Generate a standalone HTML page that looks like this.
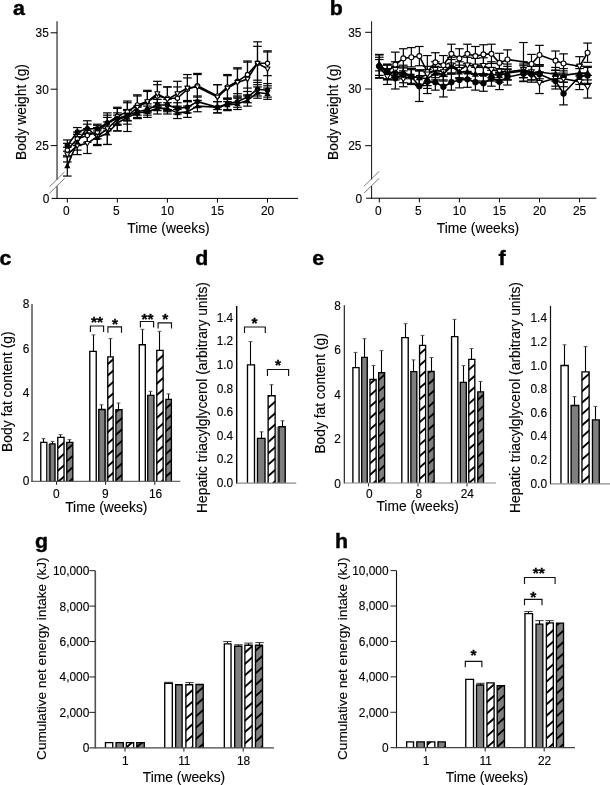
<!DOCTYPE html>
<html lang="en">
<head>
<meta charset="utf-8">
<title>Figure: body weight, body fat content, hepatic triacylglycerol and energy intake</title>
<style>
html,body{margin:0;padding:0;background:#fff;}
body{width:610px;height:785px;overflow:hidden;}
svg{display:block;font-family:'Liberation Sans', sans-serif;fill:#000;}
</style>
</head>
<body>
<svg width="610" height="785" viewBox="0 0 610 785">
<rect x="0" y="0" width="610" height="785" fill="#fff"/>
<g id="panel-a">
<text transform="translate(13 15.1) scale(1.1 1)" x="0" y="0" font-size="19.4" text-anchor="start" font-weight="bold" stroke="#000" stroke-width="0.4" stroke-linejoin="round">a</text>
<line x1="57.05" y1="21.3" x2="57.05" y2="179.7" stroke="#606060" stroke-width="1.6"/>
<line x1="57.05" y1="186.2" x2="57.05" y2="198.9" stroke="#606060" stroke-width="1.6"/>
<line x1="49.4" y1="186.9" x2="64.6" y2="171.9" stroke="#555" stroke-width="0.8"/>
<line x1="49.4" y1="193.4" x2="64.6" y2="178.4" stroke="#555" stroke-width="0.8"/>
<line x1="51.55" y1="198.4" x2="298" y2="198.4" stroke="#000" stroke-width="1"/>
<line x1="50.65" y1="145.6" x2="57.05" y2="145.6" stroke="#000" stroke-width="1"/>
<text x="48.85" y="149.9" font-size="11.9" text-anchor="end" stroke="#000" stroke-width="0.12">25</text>
<line x1="50.65" y1="89.2" x2="57.05" y2="89.2" stroke="#000" stroke-width="1"/>
<text x="48.85" y="93.5" font-size="11.9" text-anchor="end" stroke="#000" stroke-width="0.12">30</text>
<line x1="50.65" y1="32.8" x2="57.05" y2="32.8" stroke="#000" stroke-width="1"/>
<text x="48.85" y="37.1" font-size="11.9" text-anchor="end" stroke="#000" stroke-width="0.12">35</text>
<text x="49.45" y="202.7" font-size="11.9" text-anchor="end" stroke="#000" stroke-width="0.12">0</text>
<line x1="67.3" y1="198.4" x2="67.3" y2="202.6" stroke="#000" stroke-width="1"/>
<text x="66.2" y="214.8" font-size="11.9" text-anchor="middle" stroke="#000" stroke-width="0.12">0</text>
<line x1="117.35" y1="198.4" x2="117.35" y2="202.6" stroke="#000" stroke-width="1"/>
<text x="116.25" y="214.8" font-size="11.9" text-anchor="middle" stroke="#000" stroke-width="0.12">5</text>
<line x1="167.4" y1="198.4" x2="167.4" y2="202.6" stroke="#000" stroke-width="1"/>
<text x="167.4" y="214.8" font-size="11.9" text-anchor="middle" stroke="#000" stroke-width="0.12">10</text>
<line x1="217.45" y1="198.4" x2="217.45" y2="202.6" stroke="#000" stroke-width="1"/>
<text x="217.45" y="214.8" font-size="11.9" text-anchor="middle" stroke="#000" stroke-width="0.12">15</text>
<line x1="267.5" y1="198.4" x2="267.5" y2="202.6" stroke="#000" stroke-width="1"/>
<text x="267.5" y="214.8" font-size="11.9" text-anchor="middle" stroke="#000" stroke-width="0.12">20</text>
<text x="26" y="112" font-size="13.8" text-anchor="middle" transform="rotate(-90 26 112)" stroke="#000" stroke-width="0.12">Body weight (g)</text>
<text x="168.5" y="232.5" font-size="13.8" text-anchor="middle" stroke="#000" stroke-width="0.12">Time (weeks)</text>
<line x1="67.3" y1="143.34" x2="67.3" y2="156.88" stroke="#000" stroke-width="1.2"/>
<line x1="63" y1="143.34" x2="71.6" y2="143.34" stroke="#000" stroke-width="1.2"/>
<line x1="63" y1="156.88" x2="71.6" y2="156.88" stroke="#000" stroke-width="1.2"/>
<line x1="77.31" y1="132.06" x2="77.31" y2="145.6" stroke="#000" stroke-width="1.2"/>
<line x1="73.01" y1="132.06" x2="81.61" y2="132.06" stroke="#000" stroke-width="1.2"/>
<line x1="73.01" y1="145.6" x2="81.61" y2="145.6" stroke="#000" stroke-width="1.2"/>
<line x1="87.32" y1="128.68" x2="87.32" y2="142.22" stroke="#000" stroke-width="1.2"/>
<line x1="83.02" y1="128.68" x2="91.62" y2="128.68" stroke="#000" stroke-width="1.2"/>
<line x1="83.02" y1="142.22" x2="91.62" y2="142.22" stroke="#000" stroke-width="1.2"/>
<line x1="97.33" y1="125.3" x2="97.33" y2="138.83" stroke="#000" stroke-width="1.2"/>
<line x1="93.03" y1="125.3" x2="101.63" y2="125.3" stroke="#000" stroke-width="1.2"/>
<line x1="93.03" y1="138.83" x2="101.63" y2="138.83" stroke="#000" stroke-width="1.2"/>
<line x1="107.34" y1="115.14" x2="107.34" y2="130.94" stroke="#000" stroke-width="1.2"/>
<line x1="103.04" y1="115.14" x2="111.64" y2="115.14" stroke="#000" stroke-width="1.2"/>
<line x1="103.04" y1="130.94" x2="111.64" y2="130.94" stroke="#000" stroke-width="1.2"/>
<line x1="117.35" y1="107.25" x2="117.35" y2="125.3" stroke="#000" stroke-width="1.2"/>
<line x1="113.05" y1="107.25" x2="121.65" y2="107.25" stroke="#000" stroke-width="1.2"/>
<line x1="113.05" y1="125.3" x2="121.65" y2="125.3" stroke="#000" stroke-width="1.2"/>
<line x1="127.36" y1="102.74" x2="127.36" y2="120.78" stroke="#000" stroke-width="1.2"/>
<line x1="123.06" y1="102.74" x2="131.66" y2="102.74" stroke="#000" stroke-width="1.2"/>
<line x1="123.06" y1="120.78" x2="131.66" y2="120.78" stroke="#000" stroke-width="1.2"/>
<line x1="137.37" y1="94.84" x2="137.37" y2="115.14" stroke="#000" stroke-width="1.2"/>
<line x1="133.07" y1="94.84" x2="141.67" y2="94.84" stroke="#000" stroke-width="1.2"/>
<line x1="133.07" y1="115.14" x2="141.67" y2="115.14" stroke="#000" stroke-width="1.2"/>
<line x1="147.38" y1="91.46" x2="147.38" y2="111.76" stroke="#000" stroke-width="1.2"/>
<line x1="143.08" y1="91.46" x2="151.68" y2="91.46" stroke="#000" stroke-width="1.2"/>
<line x1="143.08" y1="111.76" x2="151.68" y2="111.76" stroke="#000" stroke-width="1.2"/>
<line x1="157.39" y1="84.69" x2="157.39" y2="107.25" stroke="#000" stroke-width="1.2"/>
<line x1="153.09" y1="84.69" x2="161.69" y2="84.69" stroke="#000" stroke-width="1.2"/>
<line x1="153.09" y1="107.25" x2="161.69" y2="107.25" stroke="#000" stroke-width="1.2"/>
<line x1="167.4" y1="86.94" x2="167.4" y2="109.5" stroke="#000" stroke-width="1.2"/>
<line x1="163.1" y1="86.94" x2="171.7" y2="86.94" stroke="#000" stroke-width="1.2"/>
<line x1="163.1" y1="109.5" x2="171.7" y2="109.5" stroke="#000" stroke-width="1.2"/>
<line x1="177.41" y1="86.94" x2="177.41" y2="109.5" stroke="#000" stroke-width="1.2"/>
<line x1="173.11" y1="86.94" x2="181.71" y2="86.94" stroke="#000" stroke-width="1.2"/>
<line x1="173.11" y1="109.5" x2="181.71" y2="109.5" stroke="#000" stroke-width="1.2"/>
<line x1="187.42" y1="77.92" x2="187.42" y2="100.48" stroke="#000" stroke-width="1.2"/>
<line x1="183.12" y1="77.92" x2="191.72" y2="77.92" stroke="#000" stroke-width="1.2"/>
<line x1="183.12" y1="100.48" x2="191.72" y2="100.48" stroke="#000" stroke-width="1.2"/>
<line x1="197.43" y1="74.54" x2="197.43" y2="97.1" stroke="#000" stroke-width="1.2"/>
<line x1="193.13" y1="74.54" x2="201.73" y2="74.54" stroke="#000" stroke-width="1.2"/>
<line x1="193.13" y1="97.1" x2="201.73" y2="97.1" stroke="#000" stroke-width="1.2"/>
<line x1="217.45" y1="84.69" x2="217.45" y2="107.25" stroke="#000" stroke-width="1.2"/>
<line x1="213.15" y1="84.69" x2="221.75" y2="84.69" stroke="#000" stroke-width="1.2"/>
<line x1="213.15" y1="107.25" x2="221.75" y2="107.25" stroke="#000" stroke-width="1.2"/>
<line x1="227.46" y1="75.66" x2="227.46" y2="98.22" stroke="#000" stroke-width="1.2"/>
<line x1="223.16" y1="75.66" x2="231.76" y2="75.66" stroke="#000" stroke-width="1.2"/>
<line x1="223.16" y1="98.22" x2="231.76" y2="98.22" stroke="#000" stroke-width="1.2"/>
<line x1="237.47" y1="68.9" x2="237.47" y2="93.71" stroke="#000" stroke-width="1.2"/>
<line x1="233.17" y1="68.9" x2="241.77" y2="68.9" stroke="#000" stroke-width="1.2"/>
<line x1="233.17" y1="93.71" x2="241.77" y2="93.71" stroke="#000" stroke-width="1.2"/>
<line x1="247.48" y1="61" x2="247.48" y2="88.07" stroke="#000" stroke-width="1.2"/>
<line x1="243.18" y1="61" x2="251.78" y2="61" stroke="#000" stroke-width="1.2"/>
<line x1="243.18" y1="88.07" x2="251.78" y2="88.07" stroke="#000" stroke-width="1.2"/>
<line x1="257.49" y1="46.34" x2="257.49" y2="80.18" stroke="#000" stroke-width="1.2"/>
<line x1="253.19" y1="46.34" x2="261.79" y2="46.34" stroke="#000" stroke-width="1.2"/>
<line x1="253.19" y1="80.18" x2="261.79" y2="80.18" stroke="#000" stroke-width="1.2"/>
<line x1="267.5" y1="50.85" x2="267.5" y2="75.66" stroke="#000" stroke-width="1.2"/>
<line x1="263.2" y1="50.85" x2="271.8" y2="50.85" stroke="#000" stroke-width="1.2"/>
<line x1="263.2" y1="75.66" x2="271.8" y2="75.66" stroke="#000" stroke-width="1.2"/>
<line x1="67.3" y1="147.29" x2="67.3" y2="161.96" stroke="#000" stroke-width="1.2"/>
<line x1="63" y1="147.29" x2="71.6" y2="147.29" stroke="#000" stroke-width="1.2"/>
<line x1="63" y1="161.96" x2="71.6" y2="161.96" stroke="#000" stroke-width="1.2"/>
<line x1="77.31" y1="136.58" x2="77.31" y2="154.62" stroke="#000" stroke-width="1.2"/>
<line x1="73.01" y1="136.58" x2="81.61" y2="136.58" stroke="#000" stroke-width="1.2"/>
<line x1="73.01" y1="154.62" x2="81.61" y2="154.62" stroke="#000" stroke-width="1.2"/>
<line x1="87.32" y1="133.19" x2="87.32" y2="153.5" stroke="#000" stroke-width="1.2"/>
<line x1="83.02" y1="133.19" x2="91.62" y2="133.19" stroke="#000" stroke-width="1.2"/>
<line x1="83.02" y1="153.5" x2="91.62" y2="153.5" stroke="#000" stroke-width="1.2"/>
<line x1="97.33" y1="127.55" x2="97.33" y2="145.6" stroke="#000" stroke-width="1.2"/>
<line x1="93.03" y1="127.55" x2="101.63" y2="127.55" stroke="#000" stroke-width="1.2"/>
<line x1="93.03" y1="145.6" x2="101.63" y2="145.6" stroke="#000" stroke-width="1.2"/>
<line x1="107.34" y1="112.89" x2="107.34" y2="144.47" stroke="#000" stroke-width="1.2"/>
<line x1="103.04" y1="112.89" x2="111.64" y2="112.89" stroke="#000" stroke-width="1.2"/>
<line x1="103.04" y1="144.47" x2="111.64" y2="144.47" stroke="#000" stroke-width="1.2"/>
<line x1="117.35" y1="108.38" x2="117.35" y2="130.94" stroke="#000" stroke-width="1.2"/>
<line x1="113.05" y1="108.38" x2="121.65" y2="108.38" stroke="#000" stroke-width="1.2"/>
<line x1="113.05" y1="130.94" x2="121.65" y2="130.94" stroke="#000" stroke-width="1.2"/>
<line x1="127.36" y1="101.04" x2="127.36" y2="131.5" stroke="#000" stroke-width="1.2"/>
<line x1="123.06" y1="101.04" x2="131.66" y2="101.04" stroke="#000" stroke-width="1.2"/>
<line x1="123.06" y1="131.5" x2="131.66" y2="131.5" stroke="#000" stroke-width="1.2"/>
<line x1="137.37" y1="95.97" x2="137.37" y2="118.53" stroke="#000" stroke-width="1.2"/>
<line x1="133.07" y1="95.97" x2="141.67" y2="95.97" stroke="#000" stroke-width="1.2"/>
<line x1="133.07" y1="118.53" x2="141.67" y2="118.53" stroke="#000" stroke-width="1.2"/>
<line x1="147.38" y1="90.33" x2="147.38" y2="112.89" stroke="#000" stroke-width="1.2"/>
<line x1="143.08" y1="90.33" x2="151.68" y2="90.33" stroke="#000" stroke-width="1.2"/>
<line x1="143.08" y1="112.89" x2="151.68" y2="112.89" stroke="#000" stroke-width="1.2"/>
<line x1="157.39" y1="81.3" x2="157.39" y2="106.12" stroke="#000" stroke-width="1.2"/>
<line x1="153.09" y1="81.3" x2="161.69" y2="81.3" stroke="#000" stroke-width="1.2"/>
<line x1="153.09" y1="106.12" x2="161.69" y2="106.12" stroke="#000" stroke-width="1.2"/>
<line x1="167.4" y1="86.94" x2="167.4" y2="111.76" stroke="#000" stroke-width="1.2"/>
<line x1="163.1" y1="86.94" x2="171.7" y2="86.94" stroke="#000" stroke-width="1.2"/>
<line x1="163.1" y1="111.76" x2="171.7" y2="111.76" stroke="#000" stroke-width="1.2"/>
<line x1="177.41" y1="81.3" x2="177.41" y2="106.12" stroke="#000" stroke-width="1.2"/>
<line x1="173.11" y1="81.3" x2="181.71" y2="81.3" stroke="#000" stroke-width="1.2"/>
<line x1="173.11" y1="106.12" x2="181.71" y2="106.12" stroke="#000" stroke-width="1.2"/>
<line x1="187.42" y1="74.54" x2="187.42" y2="101.61" stroke="#000" stroke-width="1.2"/>
<line x1="183.12" y1="74.54" x2="191.72" y2="74.54" stroke="#000" stroke-width="1.2"/>
<line x1="183.12" y1="101.61" x2="191.72" y2="101.61" stroke="#000" stroke-width="1.2"/>
<line x1="197.43" y1="73.41" x2="197.43" y2="100.48" stroke="#000" stroke-width="1.2"/>
<line x1="193.13" y1="73.41" x2="201.73" y2="73.41" stroke="#000" stroke-width="1.2"/>
<line x1="193.13" y1="100.48" x2="201.73" y2="100.48" stroke="#000" stroke-width="1.2"/>
<line x1="217.45" y1="84.69" x2="217.45" y2="109.5" stroke="#000" stroke-width="1.2"/>
<line x1="213.15" y1="84.69" x2="221.75" y2="84.69" stroke="#000" stroke-width="1.2"/>
<line x1="213.15" y1="109.5" x2="221.75" y2="109.5" stroke="#000" stroke-width="1.2"/>
<line x1="227.46" y1="74.54" x2="227.46" y2="101.61" stroke="#000" stroke-width="1.2"/>
<line x1="223.16" y1="74.54" x2="231.76" y2="74.54" stroke="#000" stroke-width="1.2"/>
<line x1="223.16" y1="101.61" x2="231.76" y2="101.61" stroke="#000" stroke-width="1.2"/>
<line x1="237.47" y1="67.77" x2="237.47" y2="97.1" stroke="#000" stroke-width="1.2"/>
<line x1="233.17" y1="67.77" x2="241.77" y2="67.77" stroke="#000" stroke-width="1.2"/>
<line x1="233.17" y1="97.1" x2="241.77" y2="97.1" stroke="#000" stroke-width="1.2"/>
<line x1="247.48" y1="62.13" x2="247.48" y2="95.97" stroke="#000" stroke-width="1.2"/>
<line x1="243.18" y1="62.13" x2="251.78" y2="62.13" stroke="#000" stroke-width="1.2"/>
<line x1="243.18" y1="95.97" x2="251.78" y2="95.97" stroke="#000" stroke-width="1.2"/>
<line x1="257.49" y1="41.82" x2="257.49" y2="84.69" stroke="#000" stroke-width="1.2"/>
<line x1="253.19" y1="41.82" x2="261.79" y2="41.82" stroke="#000" stroke-width="1.2"/>
<line x1="253.19" y1="84.69" x2="261.79" y2="84.69" stroke="#000" stroke-width="1.2"/>
<line x1="267.5" y1="51.98" x2="267.5" y2="85.82" stroke="#000" stroke-width="1.2"/>
<line x1="263.2" y1="51.98" x2="271.8" y2="51.98" stroke="#000" stroke-width="1.2"/>
<line x1="263.2" y1="85.82" x2="271.8" y2="85.82" stroke="#000" stroke-width="1.2"/>
<line x1="67.3" y1="139.96" x2="67.3" y2="151.24" stroke="#000" stroke-width="1.2"/>
<line x1="63" y1="139.96" x2="71.6" y2="139.96" stroke="#000" stroke-width="1.2"/>
<line x1="63" y1="151.24" x2="71.6" y2="151.24" stroke="#000" stroke-width="1.2"/>
<line x1="77.31" y1="127.55" x2="77.31" y2="136.58" stroke="#000" stroke-width="1.2"/>
<line x1="73.01" y1="127.55" x2="81.61" y2="127.55" stroke="#000" stroke-width="1.2"/>
<line x1="73.01" y1="136.58" x2="81.61" y2="136.58" stroke="#000" stroke-width="1.2"/>
<line x1="87.32" y1="124.17" x2="87.32" y2="133.19" stroke="#000" stroke-width="1.2"/>
<line x1="83.02" y1="124.17" x2="91.62" y2="124.17" stroke="#000" stroke-width="1.2"/>
<line x1="83.02" y1="133.19" x2="91.62" y2="133.19" stroke="#000" stroke-width="1.2"/>
<line x1="97.33" y1="124.17" x2="97.33" y2="133.19" stroke="#000" stroke-width="1.2"/>
<line x1="93.03" y1="124.17" x2="101.63" y2="124.17" stroke="#000" stroke-width="1.2"/>
<line x1="93.03" y1="133.19" x2="101.63" y2="133.19" stroke="#000" stroke-width="1.2"/>
<line x1="107.34" y1="117.4" x2="107.34" y2="128.68" stroke="#000" stroke-width="1.2"/>
<line x1="103.04" y1="117.4" x2="111.64" y2="117.4" stroke="#000" stroke-width="1.2"/>
<line x1="103.04" y1="128.68" x2="111.64" y2="128.68" stroke="#000" stroke-width="1.2"/>
<line x1="117.35" y1="112.89" x2="117.35" y2="124.17" stroke="#000" stroke-width="1.2"/>
<line x1="113.05" y1="112.89" x2="121.65" y2="112.89" stroke="#000" stroke-width="1.2"/>
<line x1="113.05" y1="124.17" x2="121.65" y2="124.17" stroke="#000" stroke-width="1.2"/>
<line x1="127.36" y1="109.5" x2="127.36" y2="120.78" stroke="#000" stroke-width="1.2"/>
<line x1="123.06" y1="109.5" x2="131.66" y2="109.5" stroke="#000" stroke-width="1.2"/>
<line x1="123.06" y1="120.78" x2="131.66" y2="120.78" stroke="#000" stroke-width="1.2"/>
<line x1="137.37" y1="106.12" x2="137.37" y2="117.4" stroke="#000" stroke-width="1.2"/>
<line x1="133.07" y1="106.12" x2="141.67" y2="106.12" stroke="#000" stroke-width="1.2"/>
<line x1="133.07" y1="117.4" x2="141.67" y2="117.4" stroke="#000" stroke-width="1.2"/>
<line x1="147.38" y1="103.86" x2="147.38" y2="115.14" stroke="#000" stroke-width="1.2"/>
<line x1="143.08" y1="103.86" x2="151.68" y2="103.86" stroke="#000" stroke-width="1.2"/>
<line x1="143.08" y1="115.14" x2="151.68" y2="115.14" stroke="#000" stroke-width="1.2"/>
<line x1="157.39" y1="99.35" x2="157.39" y2="110.63" stroke="#000" stroke-width="1.2"/>
<line x1="153.09" y1="99.35" x2="161.69" y2="99.35" stroke="#000" stroke-width="1.2"/>
<line x1="153.09" y1="110.63" x2="161.69" y2="110.63" stroke="#000" stroke-width="1.2"/>
<line x1="167.4" y1="99.35" x2="167.4" y2="110.63" stroke="#000" stroke-width="1.2"/>
<line x1="163.1" y1="99.35" x2="171.7" y2="99.35" stroke="#000" stroke-width="1.2"/>
<line x1="163.1" y1="110.63" x2="171.7" y2="110.63" stroke="#000" stroke-width="1.2"/>
<line x1="177.41" y1="102.74" x2="177.41" y2="114.02" stroke="#000" stroke-width="1.2"/>
<line x1="173.11" y1="102.74" x2="181.71" y2="102.74" stroke="#000" stroke-width="1.2"/>
<line x1="173.11" y1="114.02" x2="181.71" y2="114.02" stroke="#000" stroke-width="1.2"/>
<line x1="187.42" y1="101.61" x2="187.42" y2="112.89" stroke="#000" stroke-width="1.2"/>
<line x1="183.12" y1="101.61" x2="191.72" y2="101.61" stroke="#000" stroke-width="1.2"/>
<line x1="183.12" y1="112.89" x2="191.72" y2="112.89" stroke="#000" stroke-width="1.2"/>
<line x1="197.43" y1="95.97" x2="197.43" y2="107.25" stroke="#000" stroke-width="1.2"/>
<line x1="193.13" y1="95.97" x2="201.73" y2="95.97" stroke="#000" stroke-width="1.2"/>
<line x1="193.13" y1="107.25" x2="201.73" y2="107.25" stroke="#000" stroke-width="1.2"/>
<line x1="217.45" y1="101.61" x2="217.45" y2="112.89" stroke="#000" stroke-width="1.2"/>
<line x1="213.15" y1="101.61" x2="221.75" y2="101.61" stroke="#000" stroke-width="1.2"/>
<line x1="213.15" y1="112.89" x2="221.75" y2="112.89" stroke="#000" stroke-width="1.2"/>
<line x1="227.46" y1="98.22" x2="227.46" y2="109.5" stroke="#000" stroke-width="1.2"/>
<line x1="223.16" y1="98.22" x2="231.76" y2="98.22" stroke="#000" stroke-width="1.2"/>
<line x1="223.16" y1="109.5" x2="231.76" y2="109.5" stroke="#000" stroke-width="1.2"/>
<line x1="237.47" y1="95.97" x2="237.47" y2="107.25" stroke="#000" stroke-width="1.2"/>
<line x1="233.17" y1="95.97" x2="241.77" y2="95.97" stroke="#000" stroke-width="1.2"/>
<line x1="233.17" y1="107.25" x2="241.77" y2="107.25" stroke="#000" stroke-width="1.2"/>
<line x1="247.48" y1="91.46" x2="247.48" y2="102.74" stroke="#000" stroke-width="1.2"/>
<line x1="243.18" y1="91.46" x2="251.78" y2="91.46" stroke="#000" stroke-width="1.2"/>
<line x1="243.18" y1="102.74" x2="251.78" y2="102.74" stroke="#000" stroke-width="1.2"/>
<line x1="257.49" y1="82.43" x2="257.49" y2="95.97" stroke="#000" stroke-width="1.2"/>
<line x1="253.19" y1="82.43" x2="261.79" y2="82.43" stroke="#000" stroke-width="1.2"/>
<line x1="253.19" y1="95.97" x2="261.79" y2="95.97" stroke="#000" stroke-width="1.2"/>
<line x1="267.5" y1="83.56" x2="267.5" y2="97.1" stroke="#000" stroke-width="1.2"/>
<line x1="263.2" y1="83.56" x2="271.8" y2="83.56" stroke="#000" stroke-width="1.2"/>
<line x1="263.2" y1="97.1" x2="271.8" y2="97.1" stroke="#000" stroke-width="1.2"/>
<line x1="67.3" y1="155.75" x2="67.3" y2="176.06" stroke="#000" stroke-width="1.2"/>
<line x1="63" y1="155.75" x2="71.6" y2="155.75" stroke="#000" stroke-width="1.2"/>
<line x1="63" y1="176.06" x2="71.6" y2="176.06" stroke="#000" stroke-width="1.2"/>
<line x1="77.31" y1="134.32" x2="77.31" y2="150.11" stroke="#000" stroke-width="1.2"/>
<line x1="73.01" y1="134.32" x2="81.61" y2="134.32" stroke="#000" stroke-width="1.2"/>
<line x1="73.01" y1="150.11" x2="81.61" y2="150.11" stroke="#000" stroke-width="1.2"/>
<line x1="87.32" y1="120.78" x2="87.32" y2="134.32" stroke="#000" stroke-width="1.2"/>
<line x1="83.02" y1="120.78" x2="91.62" y2="120.78" stroke="#000" stroke-width="1.2"/>
<line x1="83.02" y1="134.32" x2="91.62" y2="134.32" stroke="#000" stroke-width="1.2"/>
<line x1="97.33" y1="130.94" x2="97.33" y2="144.47" stroke="#000" stroke-width="1.2"/>
<line x1="93.03" y1="130.94" x2="101.63" y2="130.94" stroke="#000" stroke-width="1.2"/>
<line x1="93.03" y1="144.47" x2="101.63" y2="144.47" stroke="#000" stroke-width="1.2"/>
<line x1="107.34" y1="121.91" x2="107.34" y2="144.47" stroke="#000" stroke-width="1.2"/>
<line x1="103.04" y1="121.91" x2="111.64" y2="121.91" stroke="#000" stroke-width="1.2"/>
<line x1="103.04" y1="144.47" x2="111.64" y2="144.47" stroke="#000" stroke-width="1.2"/>
<line x1="117.35" y1="115.14" x2="117.35" y2="130.94" stroke="#000" stroke-width="1.2"/>
<line x1="113.05" y1="115.14" x2="121.65" y2="115.14" stroke="#000" stroke-width="1.2"/>
<line x1="113.05" y1="130.94" x2="121.65" y2="130.94" stroke="#000" stroke-width="1.2"/>
<line x1="127.36" y1="110.63" x2="127.36" y2="124.17" stroke="#000" stroke-width="1.2"/>
<line x1="123.06" y1="110.63" x2="131.66" y2="110.63" stroke="#000" stroke-width="1.2"/>
<line x1="123.06" y1="124.17" x2="131.66" y2="124.17" stroke="#000" stroke-width="1.2"/>
<line x1="137.37" y1="107.25" x2="137.37" y2="118.53" stroke="#000" stroke-width="1.2"/>
<line x1="133.07" y1="107.25" x2="141.67" y2="107.25" stroke="#000" stroke-width="1.2"/>
<line x1="133.07" y1="118.53" x2="141.67" y2="118.53" stroke="#000" stroke-width="1.2"/>
<line x1="147.38" y1="106.12" x2="147.38" y2="117.4" stroke="#000" stroke-width="1.2"/>
<line x1="143.08" y1="106.12" x2="151.68" y2="106.12" stroke="#000" stroke-width="1.2"/>
<line x1="143.08" y1="117.4" x2="151.68" y2="117.4" stroke="#000" stroke-width="1.2"/>
<line x1="157.39" y1="102.74" x2="157.39" y2="114.02" stroke="#000" stroke-width="1.2"/>
<line x1="153.09" y1="102.74" x2="161.69" y2="102.74" stroke="#000" stroke-width="1.2"/>
<line x1="153.09" y1="114.02" x2="161.69" y2="114.02" stroke="#000" stroke-width="1.2"/>
<line x1="167.4" y1="102.74" x2="167.4" y2="114.02" stroke="#000" stroke-width="1.2"/>
<line x1="163.1" y1="102.74" x2="171.7" y2="102.74" stroke="#000" stroke-width="1.2"/>
<line x1="163.1" y1="114.02" x2="171.7" y2="114.02" stroke="#000" stroke-width="1.2"/>
<line x1="177.41" y1="107.25" x2="177.41" y2="118.53" stroke="#000" stroke-width="1.2"/>
<line x1="173.11" y1="107.25" x2="181.71" y2="107.25" stroke="#000" stroke-width="1.2"/>
<line x1="173.11" y1="118.53" x2="181.71" y2="118.53" stroke="#000" stroke-width="1.2"/>
<line x1="187.42" y1="106.12" x2="187.42" y2="117.4" stroke="#000" stroke-width="1.2"/>
<line x1="183.12" y1="106.12" x2="191.72" y2="106.12" stroke="#000" stroke-width="1.2"/>
<line x1="183.12" y1="117.4" x2="191.72" y2="117.4" stroke="#000" stroke-width="1.2"/>
<line x1="197.43" y1="100.48" x2="197.43" y2="111.76" stroke="#000" stroke-width="1.2"/>
<line x1="193.13" y1="100.48" x2="201.73" y2="100.48" stroke="#000" stroke-width="1.2"/>
<line x1="193.13" y1="111.76" x2="201.73" y2="111.76" stroke="#000" stroke-width="1.2"/>
<line x1="217.45" y1="101.61" x2="217.45" y2="112.89" stroke="#000" stroke-width="1.2"/>
<line x1="213.15" y1="101.61" x2="221.75" y2="101.61" stroke="#000" stroke-width="1.2"/>
<line x1="213.15" y1="112.89" x2="221.75" y2="112.89" stroke="#000" stroke-width="1.2"/>
<line x1="227.46" y1="99.35" x2="227.46" y2="110.63" stroke="#000" stroke-width="1.2"/>
<line x1="223.16" y1="99.35" x2="231.76" y2="99.35" stroke="#000" stroke-width="1.2"/>
<line x1="223.16" y1="110.63" x2="231.76" y2="110.63" stroke="#000" stroke-width="1.2"/>
<line x1="237.47" y1="98.22" x2="237.47" y2="109.5" stroke="#000" stroke-width="1.2"/>
<line x1="233.17" y1="98.22" x2="241.77" y2="98.22" stroke="#000" stroke-width="1.2"/>
<line x1="233.17" y1="109.5" x2="241.77" y2="109.5" stroke="#000" stroke-width="1.2"/>
<line x1="247.48" y1="94.84" x2="247.48" y2="106.12" stroke="#000" stroke-width="1.2"/>
<line x1="243.18" y1="94.84" x2="251.78" y2="94.84" stroke="#000" stroke-width="1.2"/>
<line x1="243.18" y1="106.12" x2="251.78" y2="106.12" stroke="#000" stroke-width="1.2"/>
<line x1="257.49" y1="86.94" x2="257.49" y2="98.22" stroke="#000" stroke-width="1.2"/>
<line x1="253.19" y1="86.94" x2="261.79" y2="86.94" stroke="#000" stroke-width="1.2"/>
<line x1="253.19" y1="98.22" x2="261.79" y2="98.22" stroke="#000" stroke-width="1.2"/>
<line x1="267.5" y1="88.07" x2="267.5" y2="99.35" stroke="#000" stroke-width="1.2"/>
<line x1="263.2" y1="88.07" x2="271.8" y2="88.07" stroke="#000" stroke-width="1.2"/>
<line x1="263.2" y1="99.35" x2="271.8" y2="99.35" stroke="#000" stroke-width="1.2"/>
<polyline points="67.3,150.11 77.31,138.83 87.32,135.45 97.33,132.06 107.34,123.04 117.35,116.27 127.36,111.76 137.37,104.99 147.38,101.61 157.39,95.97 167.4,98.22 177.41,98.22 187.42,89.2 197.43,85.82 217.45,95.97 227.46,86.94 237.47,81.3 247.48,74.54 257.49,63.26 267.5,63.26" fill="none" stroke="#000" stroke-width="1.6" stroke-linejoin="round"/>
<polyline points="67.3,154.62 77.31,145.6 87.32,143.34 97.33,136.58 107.34,128.68 117.35,119.66 127.36,116.27 137.37,107.25 147.38,101.61 157.39,93.71 167.4,99.35 177.41,93.71 187.42,88.07 197.43,86.94 217.45,97.1 227.46,88.07 237.47,82.43 247.48,79.05 257.49,63.26 267.5,68.9" fill="none" stroke="#000" stroke-width="1.6" stroke-linejoin="round"/>
<polyline points="67.3,145.6 77.31,132.06 87.32,128.68 97.33,128.68 107.34,123.04 117.35,118.53 127.36,115.14 137.37,111.76 147.38,109.5 157.39,104.99 167.4,104.99 177.41,108.38 187.42,107.25 197.43,101.61 217.45,107.25 227.46,103.86 237.47,101.61 247.48,97.1 257.49,89.2 267.5,90.33" fill="none" stroke="#000" stroke-width="1.6" stroke-linejoin="round"/>
<polyline points="67.3,165.9 77.31,142.22 87.32,127.55 97.33,137.7 107.34,133.19 117.35,123.04 127.36,117.4 137.37,112.89 147.38,111.76 157.39,108.38 167.4,108.38 177.41,112.89 187.42,111.76 197.43,106.12 217.45,107.25 227.46,104.99 237.47,103.86 247.48,100.48 257.49,92.58 267.5,93.71" fill="none" stroke="#000" stroke-width="1.6" stroke-linejoin="round"/>
<circle cx="67.3" cy="150.11" r="2.17" fill="#fff" stroke="#000" stroke-width="1.1"/>
<circle cx="77.31" cy="138.83" r="2.17" fill="#fff" stroke="#000" stroke-width="1.1"/>
<circle cx="87.32" cy="135.45" r="2.17" fill="#fff" stroke="#000" stroke-width="1.1"/>
<circle cx="97.33" cy="132.06" r="2.17" fill="#fff" stroke="#000" stroke-width="1.1"/>
<circle cx="107.34" cy="123.04" r="2.17" fill="#fff" stroke="#000" stroke-width="1.1"/>
<circle cx="117.35" cy="116.27" r="2.17" fill="#fff" stroke="#000" stroke-width="1.1"/>
<circle cx="127.36" cy="111.76" r="2.17" fill="#fff" stroke="#000" stroke-width="1.1"/>
<circle cx="137.37" cy="104.99" r="2.17" fill="#fff" stroke="#000" stroke-width="1.1"/>
<circle cx="147.38" cy="101.61" r="2.17" fill="#fff" stroke="#000" stroke-width="1.1"/>
<circle cx="157.39" cy="95.97" r="2.17" fill="#fff" stroke="#000" stroke-width="1.1"/>
<circle cx="167.4" cy="98.22" r="2.17" fill="#fff" stroke="#000" stroke-width="1.1"/>
<circle cx="177.41" cy="98.22" r="2.17" fill="#fff" stroke="#000" stroke-width="1.1"/>
<circle cx="187.42" cy="89.2" r="2.17" fill="#fff" stroke="#000" stroke-width="1.1"/>
<circle cx="197.43" cy="85.82" r="2.17" fill="#fff" stroke="#000" stroke-width="1.1"/>
<circle cx="217.45" cy="95.97" r="2.17" fill="#fff" stroke="#000" stroke-width="1.1"/>
<circle cx="227.46" cy="86.94" r="2.17" fill="#fff" stroke="#000" stroke-width="1.1"/>
<circle cx="237.47" cy="81.3" r="2.17" fill="#fff" stroke="#000" stroke-width="1.1"/>
<circle cx="247.48" cy="74.54" r="2.17" fill="#fff" stroke="#000" stroke-width="1.1"/>
<circle cx="257.49" cy="63.26" r="2.17" fill="#fff" stroke="#000" stroke-width="1.1"/>
<circle cx="267.5" cy="63.26" r="2.17" fill="#fff" stroke="#000" stroke-width="1.1"/>
<polygon points="64.79,152.72 69.81,152.72 67.3,157.22" fill="#fff" stroke="#000" stroke-width="1.1" stroke-linejoin="round"/>
<polygon points="74.8,143.69 79.82,143.69 77.31,148.2" fill="#fff" stroke="#000" stroke-width="1.1" stroke-linejoin="round"/>
<polygon points="84.81,141.44 89.83,141.44 87.32,145.94" fill="#fff" stroke="#000" stroke-width="1.1" stroke-linejoin="round"/>
<polygon points="94.82,134.67 99.84,134.67 97.33,139.18" fill="#fff" stroke="#000" stroke-width="1.1" stroke-linejoin="round"/>
<polygon points="104.83,126.77 109.85,126.77 107.34,131.28" fill="#fff" stroke="#000" stroke-width="1.1" stroke-linejoin="round"/>
<polygon points="114.84,117.75 119.86,117.75 117.35,122.26" fill="#fff" stroke="#000" stroke-width="1.1" stroke-linejoin="round"/>
<polygon points="124.85,114.37 129.87,114.37 127.36,118.87" fill="#fff" stroke="#000" stroke-width="1.1" stroke-linejoin="round"/>
<polygon points="134.86,105.34 139.88,105.34 137.37,109.85" fill="#fff" stroke="#000" stroke-width="1.1" stroke-linejoin="round"/>
<polygon points="144.87,99.7 149.89,99.7 147.38,104.21" fill="#fff" stroke="#000" stroke-width="1.1" stroke-linejoin="round"/>
<polygon points="154.88,91.81 159.9,91.81 157.39,96.31" fill="#fff" stroke="#000" stroke-width="1.1" stroke-linejoin="round"/>
<polygon points="164.89,97.45 169.91,97.45 167.4,101.95" fill="#fff" stroke="#000" stroke-width="1.1" stroke-linejoin="round"/>
<polygon points="174.9,91.81 179.92,91.81 177.41,96.31" fill="#fff" stroke="#000" stroke-width="1.1" stroke-linejoin="round"/>
<polygon points="184.91,86.17 189.93,86.17 187.42,90.67" fill="#fff" stroke="#000" stroke-width="1.1" stroke-linejoin="round"/>
<polygon points="194.92,85.04 199.94,85.04 197.43,89.54" fill="#fff" stroke="#000" stroke-width="1.1" stroke-linejoin="round"/>
<polygon points="214.94,95.19 219.96,95.19 217.45,99.7" fill="#fff" stroke="#000" stroke-width="1.1" stroke-linejoin="round"/>
<polygon points="224.95,86.17 229.97,86.17 227.46,90.67" fill="#fff" stroke="#000" stroke-width="1.1" stroke-linejoin="round"/>
<polygon points="234.96,80.53 239.98,80.53 237.47,85.03" fill="#fff" stroke="#000" stroke-width="1.1" stroke-linejoin="round"/>
<polygon points="244.97,77.14 249.99,77.14 247.48,81.65" fill="#fff" stroke="#000" stroke-width="1.1" stroke-linejoin="round"/>
<polygon points="254.98,61.35 260,61.35 257.49,65.86" fill="#fff" stroke="#000" stroke-width="1.1" stroke-linejoin="round"/>
<polygon points="264.99,66.99 270.01,66.99 267.5,71.5" fill="#fff" stroke="#000" stroke-width="1.1" stroke-linejoin="round"/>
<circle cx="67.3" cy="145.6" r="2.73" fill="#000"/>
<circle cx="77.31" cy="132.06" r="2.73" fill="#000"/>
<circle cx="87.32" cy="128.68" r="2.73" fill="#000"/>
<circle cx="97.33" cy="128.68" r="2.73" fill="#000"/>
<circle cx="107.34" cy="123.04" r="2.73" fill="#000"/>
<circle cx="117.35" cy="118.53" r="2.73" fill="#000"/>
<circle cx="127.36" cy="115.14" r="2.73" fill="#000"/>
<circle cx="137.37" cy="111.76" r="2.73" fill="#000"/>
<circle cx="147.38" cy="109.5" r="2.73" fill="#000"/>
<circle cx="157.39" cy="104.99" r="2.73" fill="#000"/>
<circle cx="167.4" cy="104.99" r="2.73" fill="#000"/>
<circle cx="177.41" cy="108.38" r="2.73" fill="#000"/>
<circle cx="187.42" cy="107.25" r="2.73" fill="#000"/>
<circle cx="197.43" cy="101.61" r="2.73" fill="#000"/>
<circle cx="217.45" cy="107.25" r="2.73" fill="#000"/>
<circle cx="227.46" cy="103.86" r="2.73" fill="#000"/>
<circle cx="237.47" cy="101.61" r="2.73" fill="#000"/>
<circle cx="247.48" cy="97.1" r="2.73" fill="#000"/>
<circle cx="257.49" cy="89.2" r="2.73" fill="#000"/>
<circle cx="267.5" cy="90.33" r="2.73" fill="#000"/>
<polygon points="64.18,168.16 70.42,168.16 67.3,162.61" fill="#000"/>
<polygon points="74.19,144.47 80.43,144.47 77.31,138.92" fill="#000"/>
<polygon points="84.2,129.81 90.44,129.81 87.32,124.26" fill="#000"/>
<polygon points="94.21,139.96 100.45,139.96 97.33,134.41" fill="#000"/>
<polygon points="104.22,135.45 110.46,135.45 107.34,129.9" fill="#000"/>
<polygon points="114.23,125.29 120.47,125.29 117.35,119.75" fill="#000"/>
<polygon points="124.24,119.65 130.48,119.65 127.36,114.11" fill="#000"/>
<polygon points="134.25,115.14 140.49,115.14 137.37,109.59" fill="#000"/>
<polygon points="144.26,114.01 150.5,114.01 147.38,108.47" fill="#000"/>
<polygon points="154.27,110.63 160.51,110.63 157.39,105.08" fill="#000"/>
<polygon points="164.28,110.63 170.52,110.63 167.4,105.08" fill="#000"/>
<polygon points="174.29,115.14 180.53,115.14 177.41,109.59" fill="#000"/>
<polygon points="184.3,114.01 190.54,114.01 187.42,108.47" fill="#000"/>
<polygon points="194.31,108.37 200.55,108.37 197.43,102.83" fill="#000"/>
<polygon points="214.33,109.5 220.57,109.5 217.45,103.95" fill="#000"/>
<polygon points="224.34,107.25 230.58,107.25 227.46,101.7" fill="#000"/>
<polygon points="234.35,106.12 240.59,106.12 237.47,100.57" fill="#000"/>
<polygon points="244.36,102.73 250.6,102.73 247.48,97.19" fill="#000"/>
<polygon points="254.37,94.84 260.61,94.84 257.49,89.29" fill="#000"/>
<polygon points="264.38,95.97 270.62,95.97 267.5,90.42" fill="#000"/>
</g>
<g id="panel-b">
<text transform="translate(329.8 14.8) scale(1.1 1)" x="0" y="0" font-size="19.4" text-anchor="start" font-weight="bold" stroke="#000" stroke-width="0.4" stroke-linejoin="round">b</text>
<line x1="371.6" y1="21.3" x2="371.6" y2="179.5" stroke="#111" stroke-width="1"/>
<line x1="371.6" y1="186" x2="371.6" y2="198.7" stroke="#111" stroke-width="1"/>
<line x1="363.9" y1="186.4" x2="379.1" y2="171.4" stroke="#555" stroke-width="0.8"/>
<line x1="363.9" y1="193.3" x2="379.1" y2="178.3" stroke="#555" stroke-width="0.8"/>
<line x1="366.1" y1="198.2" x2="596.4" y2="198.2" stroke="#000" stroke-width="1"/>
<line x1="365.2" y1="145.7" x2="371.6" y2="145.7" stroke="#000" stroke-width="1"/>
<text x="361.4" y="150" font-size="11.9" text-anchor="end" stroke="#000" stroke-width="0.12">25</text>
<line x1="365.2" y1="89" x2="371.6" y2="89" stroke="#000" stroke-width="1"/>
<text x="361.4" y="93.3" font-size="11.9" text-anchor="end" stroke="#000" stroke-width="0.12">30</text>
<line x1="365.2" y1="32.3" x2="371.6" y2="32.3" stroke="#000" stroke-width="1"/>
<text x="361.4" y="36.6" font-size="11.9" text-anchor="end" stroke="#000" stroke-width="0.12">35</text>
<text x="362" y="202.5" font-size="11.9" text-anchor="end" stroke="#000" stroke-width="0.12">0</text>
<line x1="379.3" y1="198.2" x2="379.3" y2="202.4" stroke="#000" stroke-width="1"/>
<text x="378.2" y="214.6" font-size="11.9" text-anchor="middle" stroke="#000" stroke-width="0.12">0</text>
<line x1="419.35" y1="198.2" x2="419.35" y2="202.4" stroke="#000" stroke-width="1"/>
<text x="418.25" y="214.6" font-size="11.9" text-anchor="middle" stroke="#000" stroke-width="0.12">5</text>
<line x1="459.4" y1="198.2" x2="459.4" y2="202.4" stroke="#000" stroke-width="1"/>
<text x="459.4" y="214.6" font-size="11.9" text-anchor="middle" stroke="#000" stroke-width="0.12">10</text>
<line x1="499.45" y1="198.2" x2="499.45" y2="202.4" stroke="#000" stroke-width="1"/>
<text x="499.45" y="214.6" font-size="11.9" text-anchor="middle" stroke="#000" stroke-width="0.12">15</text>
<line x1="539.5" y1="198.2" x2="539.5" y2="202.4" stroke="#000" stroke-width="1"/>
<text x="539.5" y="214.6" font-size="11.9" text-anchor="middle" stroke="#000" stroke-width="0.12">20</text>
<line x1="579.55" y1="198.2" x2="579.55" y2="202.4" stroke="#000" stroke-width="1"/>
<text x="579.55" y="214.6" font-size="11.9" text-anchor="middle" stroke="#000" stroke-width="0.12">25</text>
<text x="338.1" y="112" font-size="13.8" text-anchor="middle" transform="rotate(-90 338.1 112)" stroke="#000" stroke-width="0.12">Body weight (g)</text>
<text x="478" y="232.5" font-size="13.8" text-anchor="middle" stroke="#000" stroke-width="0.12">Time (weeks)</text>
<line x1="379.3" y1="54.41" x2="379.3" y2="78.23" stroke="#000" stroke-width="1.2"/>
<line x1="375" y1="54.41" x2="383.6" y2="54.41" stroke="#000" stroke-width="1.2"/>
<line x1="375" y1="78.23" x2="383.6" y2="78.23" stroke="#000" stroke-width="1.2"/>
<line x1="387.31" y1="64.62" x2="387.31" y2="79.36" stroke="#000" stroke-width="1.2"/>
<line x1="383.01" y1="64.62" x2="391.61" y2="64.62" stroke="#000" stroke-width="1.2"/>
<line x1="383.01" y1="79.36" x2="391.61" y2="79.36" stroke="#000" stroke-width="1.2"/>
<line x1="395.32" y1="52.15" x2="395.32" y2="77.09" stroke="#000" stroke-width="1.2"/>
<line x1="391.02" y1="52.15" x2="399.62" y2="52.15" stroke="#000" stroke-width="1.2"/>
<line x1="391.02" y1="77.09" x2="399.62" y2="77.09" stroke="#000" stroke-width="1.2"/>
<line x1="403.33" y1="48.74" x2="403.33" y2="68.02" stroke="#000" stroke-width="1.2"/>
<line x1="399.03" y1="48.74" x2="407.63" y2="48.74" stroke="#000" stroke-width="1.2"/>
<line x1="399.03" y1="68.02" x2="407.63" y2="68.02" stroke="#000" stroke-width="1.2"/>
<line x1="411.34" y1="47.61" x2="411.34" y2="66.89" stroke="#000" stroke-width="1.2"/>
<line x1="407.04" y1="47.61" x2="415.64" y2="47.61" stroke="#000" stroke-width="1.2"/>
<line x1="407.04" y1="66.89" x2="415.64" y2="66.89" stroke="#000" stroke-width="1.2"/>
<line x1="419.35" y1="46.48" x2="419.35" y2="65.75" stroke="#000" stroke-width="1.2"/>
<line x1="415.05" y1="46.48" x2="423.65" y2="46.48" stroke="#000" stroke-width="1.2"/>
<line x1="415.05" y1="65.75" x2="423.65" y2="65.75" stroke="#000" stroke-width="1.2"/>
<line x1="427.36" y1="55.55" x2="427.36" y2="88.43" stroke="#000" stroke-width="1.2"/>
<line x1="423.06" y1="55.55" x2="431.66" y2="55.55" stroke="#000" stroke-width="1.2"/>
<line x1="423.06" y1="88.43" x2="431.66" y2="88.43" stroke="#000" stroke-width="1.2"/>
<line x1="435.37" y1="52.71" x2="435.37" y2="71.99" stroke="#000" stroke-width="1.2"/>
<line x1="431.07" y1="52.71" x2="439.67" y2="52.71" stroke="#000" stroke-width="1.2"/>
<line x1="431.07" y1="71.99" x2="439.67" y2="71.99" stroke="#000" stroke-width="1.2"/>
<line x1="443.38" y1="55.55" x2="443.38" y2="74.83" stroke="#000" stroke-width="1.2"/>
<line x1="439.08" y1="55.55" x2="447.68" y2="55.55" stroke="#000" stroke-width="1.2"/>
<line x1="439.08" y1="74.83" x2="447.68" y2="74.83" stroke="#000" stroke-width="1.2"/>
<line x1="451.39" y1="44.21" x2="451.39" y2="63.48" stroke="#000" stroke-width="1.2"/>
<line x1="447.09" y1="44.21" x2="455.69" y2="44.21" stroke="#000" stroke-width="1.2"/>
<line x1="447.09" y1="63.48" x2="455.69" y2="63.48" stroke="#000" stroke-width="1.2"/>
<line x1="459.4" y1="48.74" x2="459.4" y2="68.02" stroke="#000" stroke-width="1.2"/>
<line x1="455.1" y1="48.74" x2="463.7" y2="48.74" stroke="#000" stroke-width="1.2"/>
<line x1="455.1" y1="68.02" x2="463.7" y2="68.02" stroke="#000" stroke-width="1.2"/>
<line x1="467.41" y1="44.21" x2="467.41" y2="63.48" stroke="#000" stroke-width="1.2"/>
<line x1="463.11" y1="44.21" x2="471.71" y2="44.21" stroke="#000" stroke-width="1.2"/>
<line x1="463.11" y1="63.48" x2="471.71" y2="63.48" stroke="#000" stroke-width="1.2"/>
<line x1="475.42" y1="46.48" x2="475.42" y2="65.75" stroke="#000" stroke-width="1.2"/>
<line x1="471.12" y1="46.48" x2="479.72" y2="46.48" stroke="#000" stroke-width="1.2"/>
<line x1="471.12" y1="65.75" x2="479.72" y2="65.75" stroke="#000" stroke-width="1.2"/>
<line x1="483.43" y1="44.77" x2="483.43" y2="64.05" stroke="#000" stroke-width="1.2"/>
<line x1="479.13" y1="44.77" x2="487.73" y2="44.77" stroke="#000" stroke-width="1.2"/>
<line x1="479.13" y1="64.05" x2="487.73" y2="64.05" stroke="#000" stroke-width="1.2"/>
<line x1="491.44" y1="44.21" x2="491.44" y2="63.48" stroke="#000" stroke-width="1.2"/>
<line x1="487.14" y1="44.21" x2="495.74" y2="44.21" stroke="#000" stroke-width="1.2"/>
<line x1="487.14" y1="63.48" x2="495.74" y2="63.48" stroke="#000" stroke-width="1.2"/>
<line x1="499.45" y1="53.28" x2="499.45" y2="72.56" stroke="#000" stroke-width="1.2"/>
<line x1="495.15" y1="53.28" x2="503.75" y2="53.28" stroke="#000" stroke-width="1.2"/>
<line x1="495.15" y1="72.56" x2="503.75" y2="72.56" stroke="#000" stroke-width="1.2"/>
<line x1="507.46" y1="49.88" x2="507.46" y2="69.16" stroke="#000" stroke-width="1.2"/>
<line x1="503.16" y1="49.88" x2="511.76" y2="49.88" stroke="#000" stroke-width="1.2"/>
<line x1="503.16" y1="69.16" x2="511.76" y2="69.16" stroke="#000" stroke-width="1.2"/>
<line x1="523.48" y1="42.51" x2="523.48" y2="81.06" stroke="#000" stroke-width="1.2"/>
<line x1="519.18" y1="42.51" x2="527.78" y2="42.51" stroke="#000" stroke-width="1.2"/>
<line x1="519.18" y1="81.06" x2="527.78" y2="81.06" stroke="#000" stroke-width="1.2"/>
<line x1="531.49" y1="54.41" x2="531.49" y2="73.69" stroke="#000" stroke-width="1.2"/>
<line x1="527.19" y1="54.41" x2="535.79" y2="54.41" stroke="#000" stroke-width="1.2"/>
<line x1="527.19" y1="73.69" x2="535.79" y2="73.69" stroke="#000" stroke-width="1.2"/>
<line x1="539.5" y1="45.34" x2="539.5" y2="64.62" stroke="#000" stroke-width="1.2"/>
<line x1="535.2" y1="45.34" x2="543.8" y2="45.34" stroke="#000" stroke-width="1.2"/>
<line x1="535.2" y1="64.62" x2="543.8" y2="64.62" stroke="#000" stroke-width="1.2"/>
<line x1="555.52" y1="51.01" x2="555.52" y2="70.29" stroke="#000" stroke-width="1.2"/>
<line x1="551.22" y1="51.01" x2="559.82" y2="51.01" stroke="#000" stroke-width="1.2"/>
<line x1="551.22" y1="70.29" x2="559.82" y2="70.29" stroke="#000" stroke-width="1.2"/>
<line x1="563.53" y1="53.85" x2="563.53" y2="73.12" stroke="#000" stroke-width="1.2"/>
<line x1="559.23" y1="53.85" x2="567.83" y2="53.85" stroke="#000" stroke-width="1.2"/>
<line x1="559.23" y1="73.12" x2="567.83" y2="73.12" stroke="#000" stroke-width="1.2"/>
<line x1="579.55" y1="56.68" x2="579.55" y2="75.96" stroke="#000" stroke-width="1.2"/>
<line x1="575.25" y1="56.68" x2="583.85" y2="56.68" stroke="#000" stroke-width="1.2"/>
<line x1="575.25" y1="75.96" x2="583.85" y2="75.96" stroke="#000" stroke-width="1.2"/>
<line x1="587.56" y1="43.07" x2="587.56" y2="62.35" stroke="#000" stroke-width="1.2"/>
<line x1="583.26" y1="43.07" x2="591.86" y2="43.07" stroke="#000" stroke-width="1.2"/>
<line x1="583.26" y1="62.35" x2="591.86" y2="62.35" stroke="#000" stroke-width="1.2"/>
<line x1="379.3" y1="59.52" x2="379.3" y2="75.39" stroke="#000" stroke-width="1.2"/>
<line x1="375" y1="59.52" x2="383.6" y2="59.52" stroke="#000" stroke-width="1.2"/>
<line x1="375" y1="75.39" x2="383.6" y2="75.39" stroke="#000" stroke-width="1.2"/>
<line x1="387.31" y1="68.59" x2="387.31" y2="84.46" stroke="#000" stroke-width="1.2"/>
<line x1="383.01" y1="68.59" x2="391.61" y2="68.59" stroke="#000" stroke-width="1.2"/>
<line x1="383.01" y1="84.46" x2="391.61" y2="84.46" stroke="#000" stroke-width="1.2"/>
<line x1="395.32" y1="61.78" x2="395.32" y2="77.66" stroke="#000" stroke-width="1.2"/>
<line x1="391.02" y1="61.78" x2="399.62" y2="61.78" stroke="#000" stroke-width="1.2"/>
<line x1="391.02" y1="77.66" x2="399.62" y2="77.66" stroke="#000" stroke-width="1.2"/>
<line x1="403.33" y1="70.86" x2="403.33" y2="86.73" stroke="#000" stroke-width="1.2"/>
<line x1="399.03" y1="70.86" x2="407.63" y2="70.86" stroke="#000" stroke-width="1.2"/>
<line x1="399.03" y1="86.73" x2="407.63" y2="86.73" stroke="#000" stroke-width="1.2"/>
<line x1="411.34" y1="68.59" x2="411.34" y2="84.46" stroke="#000" stroke-width="1.2"/>
<line x1="407.04" y1="68.59" x2="415.64" y2="68.59" stroke="#000" stroke-width="1.2"/>
<line x1="407.04" y1="84.46" x2="415.64" y2="84.46" stroke="#000" stroke-width="1.2"/>
<line x1="419.35" y1="69.72" x2="419.35" y2="85.6" stroke="#000" stroke-width="1.2"/>
<line x1="415.05" y1="69.72" x2="423.65" y2="69.72" stroke="#000" stroke-width="1.2"/>
<line x1="415.05" y1="85.6" x2="423.65" y2="85.6" stroke="#000" stroke-width="1.2"/>
<line x1="427.36" y1="66.32" x2="427.36" y2="82.2" stroke="#000" stroke-width="1.2"/>
<line x1="423.06" y1="66.32" x2="431.66" y2="66.32" stroke="#000" stroke-width="1.2"/>
<line x1="423.06" y1="82.2" x2="431.66" y2="82.2" stroke="#000" stroke-width="1.2"/>
<line x1="435.37" y1="61.78" x2="435.37" y2="77.66" stroke="#000" stroke-width="1.2"/>
<line x1="431.07" y1="61.78" x2="439.67" y2="61.78" stroke="#000" stroke-width="1.2"/>
<line x1="431.07" y1="77.66" x2="439.67" y2="77.66" stroke="#000" stroke-width="1.2"/>
<line x1="443.38" y1="64.05" x2="443.38" y2="79.93" stroke="#000" stroke-width="1.2"/>
<line x1="439.08" y1="64.05" x2="447.68" y2="64.05" stroke="#000" stroke-width="1.2"/>
<line x1="439.08" y1="79.93" x2="447.68" y2="79.93" stroke="#000" stroke-width="1.2"/>
<line x1="451.39" y1="57.25" x2="451.39" y2="73.12" stroke="#000" stroke-width="1.2"/>
<line x1="447.09" y1="57.25" x2="455.69" y2="57.25" stroke="#000" stroke-width="1.2"/>
<line x1="447.09" y1="73.12" x2="455.69" y2="73.12" stroke="#000" stroke-width="1.2"/>
<line x1="459.4" y1="61.78" x2="459.4" y2="77.66" stroke="#000" stroke-width="1.2"/>
<line x1="455.1" y1="61.78" x2="463.7" y2="61.78" stroke="#000" stroke-width="1.2"/>
<line x1="455.1" y1="77.66" x2="463.7" y2="77.66" stroke="#000" stroke-width="1.2"/>
<line x1="467.41" y1="57.25" x2="467.41" y2="73.12" stroke="#000" stroke-width="1.2"/>
<line x1="463.11" y1="57.25" x2="471.71" y2="57.25" stroke="#000" stroke-width="1.2"/>
<line x1="463.11" y1="73.12" x2="471.71" y2="73.12" stroke="#000" stroke-width="1.2"/>
<line x1="475.42" y1="58.38" x2="475.42" y2="74.26" stroke="#000" stroke-width="1.2"/>
<line x1="471.12" y1="58.38" x2="479.72" y2="58.38" stroke="#000" stroke-width="1.2"/>
<line x1="471.12" y1="74.26" x2="479.72" y2="74.26" stroke="#000" stroke-width="1.2"/>
<line x1="483.43" y1="57.81" x2="483.43" y2="73.69" stroke="#000" stroke-width="1.2"/>
<line x1="479.13" y1="57.81" x2="487.73" y2="57.81" stroke="#000" stroke-width="1.2"/>
<line x1="479.13" y1="73.69" x2="487.73" y2="73.69" stroke="#000" stroke-width="1.2"/>
<line x1="491.44" y1="61.78" x2="491.44" y2="77.66" stroke="#000" stroke-width="1.2"/>
<line x1="487.14" y1="61.78" x2="495.74" y2="61.78" stroke="#000" stroke-width="1.2"/>
<line x1="487.14" y1="77.66" x2="495.74" y2="77.66" stroke="#000" stroke-width="1.2"/>
<line x1="499.45" y1="63.48" x2="499.45" y2="79.36" stroke="#000" stroke-width="1.2"/>
<line x1="495.15" y1="63.48" x2="503.75" y2="63.48" stroke="#000" stroke-width="1.2"/>
<line x1="495.15" y1="79.36" x2="503.75" y2="79.36" stroke="#000" stroke-width="1.2"/>
<line x1="507.46" y1="64.05" x2="507.46" y2="79.93" stroke="#000" stroke-width="1.2"/>
<line x1="503.16" y1="64.05" x2="511.76" y2="64.05" stroke="#000" stroke-width="1.2"/>
<line x1="503.16" y1="79.93" x2="511.76" y2="79.93" stroke="#000" stroke-width="1.2"/>
<line x1="523.48" y1="61.78" x2="523.48" y2="77.66" stroke="#000" stroke-width="1.2"/>
<line x1="519.18" y1="61.78" x2="527.78" y2="61.78" stroke="#000" stroke-width="1.2"/>
<line x1="519.18" y1="77.66" x2="527.78" y2="77.66" stroke="#000" stroke-width="1.2"/>
<line x1="531.49" y1="64.05" x2="531.49" y2="79.93" stroke="#000" stroke-width="1.2"/>
<line x1="527.19" y1="64.05" x2="535.79" y2="64.05" stroke="#000" stroke-width="1.2"/>
<line x1="527.19" y1="79.93" x2="535.79" y2="79.93" stroke="#000" stroke-width="1.2"/>
<line x1="539.5" y1="71.99" x2="539.5" y2="93.54" stroke="#000" stroke-width="1.2"/>
<line x1="535.2" y1="71.99" x2="543.8" y2="71.99" stroke="#000" stroke-width="1.2"/>
<line x1="535.2" y1="93.54" x2="543.8" y2="93.54" stroke="#000" stroke-width="1.2"/>
<line x1="555.52" y1="70.29" x2="555.52" y2="86.17" stroke="#000" stroke-width="1.2"/>
<line x1="551.22" y1="70.29" x2="559.82" y2="70.29" stroke="#000" stroke-width="1.2"/>
<line x1="551.22" y1="86.17" x2="559.82" y2="86.17" stroke="#000" stroke-width="1.2"/>
<line x1="563.53" y1="70.86" x2="563.53" y2="86.73" stroke="#000" stroke-width="1.2"/>
<line x1="559.23" y1="70.86" x2="567.83" y2="70.86" stroke="#000" stroke-width="1.2"/>
<line x1="559.23" y1="86.73" x2="567.83" y2="86.73" stroke="#000" stroke-width="1.2"/>
<line x1="579.55" y1="73.69" x2="579.55" y2="89.57" stroke="#000" stroke-width="1.2"/>
<line x1="575.25" y1="73.69" x2="583.85" y2="73.69" stroke="#000" stroke-width="1.2"/>
<line x1="575.25" y1="89.57" x2="583.85" y2="89.57" stroke="#000" stroke-width="1.2"/>
<line x1="587.56" y1="75.39" x2="587.56" y2="98.07" stroke="#000" stroke-width="1.2"/>
<line x1="583.26" y1="75.39" x2="591.86" y2="75.39" stroke="#000" stroke-width="1.2"/>
<line x1="583.26" y1="98.07" x2="591.86" y2="98.07" stroke="#000" stroke-width="1.2"/>
<line x1="379.3" y1="54.98" x2="379.3" y2="77.66" stroke="#000" stroke-width="1.2"/>
<line x1="375" y1="54.98" x2="383.6" y2="54.98" stroke="#000" stroke-width="1.2"/>
<line x1="375" y1="77.66" x2="383.6" y2="77.66" stroke="#000" stroke-width="1.2"/>
<line x1="387.31" y1="64.05" x2="387.31" y2="79.93" stroke="#000" stroke-width="1.2"/>
<line x1="383.01" y1="64.05" x2="391.61" y2="64.05" stroke="#000" stroke-width="1.2"/>
<line x1="383.01" y1="79.93" x2="391.61" y2="79.93" stroke="#000" stroke-width="1.2"/>
<line x1="395.32" y1="67.45" x2="395.32" y2="89" stroke="#000" stroke-width="1.2"/>
<line x1="391.02" y1="67.45" x2="399.62" y2="67.45" stroke="#000" stroke-width="1.2"/>
<line x1="391.02" y1="89" x2="399.62" y2="89" stroke="#000" stroke-width="1.2"/>
<line x1="403.33" y1="66.89" x2="403.33" y2="82.76" stroke="#000" stroke-width="1.2"/>
<line x1="399.03" y1="66.89" x2="407.63" y2="66.89" stroke="#000" stroke-width="1.2"/>
<line x1="399.03" y1="82.76" x2="407.63" y2="82.76" stroke="#000" stroke-width="1.2"/>
<line x1="411.34" y1="68.59" x2="411.34" y2="84.46" stroke="#000" stroke-width="1.2"/>
<line x1="407.04" y1="68.59" x2="415.64" y2="68.59" stroke="#000" stroke-width="1.2"/>
<line x1="407.04" y1="84.46" x2="415.64" y2="84.46" stroke="#000" stroke-width="1.2"/>
<line x1="419.35" y1="70.86" x2="419.35" y2="101.47" stroke="#000" stroke-width="1.2"/>
<line x1="415.05" y1="70.86" x2="423.65" y2="70.86" stroke="#000" stroke-width="1.2"/>
<line x1="415.05" y1="101.47" x2="423.65" y2="101.47" stroke="#000" stroke-width="1.2"/>
<line x1="427.36" y1="69.72" x2="427.36" y2="93.54" stroke="#000" stroke-width="1.2"/>
<line x1="423.06" y1="69.72" x2="431.66" y2="69.72" stroke="#000" stroke-width="1.2"/>
<line x1="423.06" y1="93.54" x2="431.66" y2="93.54" stroke="#000" stroke-width="1.2"/>
<line x1="435.37" y1="74.26" x2="435.37" y2="90.13" stroke="#000" stroke-width="1.2"/>
<line x1="431.07" y1="74.26" x2="439.67" y2="74.26" stroke="#000" stroke-width="1.2"/>
<line x1="431.07" y1="90.13" x2="439.67" y2="90.13" stroke="#000" stroke-width="1.2"/>
<line x1="443.38" y1="76.53" x2="443.38" y2="96.94" stroke="#000" stroke-width="1.2"/>
<line x1="439.08" y1="76.53" x2="447.68" y2="76.53" stroke="#000" stroke-width="1.2"/>
<line x1="439.08" y1="96.94" x2="447.68" y2="96.94" stroke="#000" stroke-width="1.2"/>
<line x1="451.39" y1="74.26" x2="451.39" y2="90.13" stroke="#000" stroke-width="1.2"/>
<line x1="447.09" y1="74.26" x2="455.69" y2="74.26" stroke="#000" stroke-width="1.2"/>
<line x1="447.09" y1="90.13" x2="455.69" y2="90.13" stroke="#000" stroke-width="1.2"/>
<line x1="459.4" y1="71.99" x2="459.4" y2="87.87" stroke="#000" stroke-width="1.2"/>
<line x1="455.1" y1="71.99" x2="463.7" y2="71.99" stroke="#000" stroke-width="1.2"/>
<line x1="455.1" y1="87.87" x2="463.7" y2="87.87" stroke="#000" stroke-width="1.2"/>
<line x1="467.41" y1="71.42" x2="467.41" y2="87.3" stroke="#000" stroke-width="1.2"/>
<line x1="463.11" y1="71.42" x2="471.71" y2="71.42" stroke="#000" stroke-width="1.2"/>
<line x1="463.11" y1="87.3" x2="471.71" y2="87.3" stroke="#000" stroke-width="1.2"/>
<line x1="475.42" y1="74.26" x2="475.42" y2="90.13" stroke="#000" stroke-width="1.2"/>
<line x1="471.12" y1="74.26" x2="479.72" y2="74.26" stroke="#000" stroke-width="1.2"/>
<line x1="471.12" y1="90.13" x2="479.72" y2="90.13" stroke="#000" stroke-width="1.2"/>
<line x1="483.43" y1="75.39" x2="483.43" y2="91.27" stroke="#000" stroke-width="1.2"/>
<line x1="479.13" y1="75.39" x2="487.73" y2="75.39" stroke="#000" stroke-width="1.2"/>
<line x1="479.13" y1="91.27" x2="487.73" y2="91.27" stroke="#000" stroke-width="1.2"/>
<line x1="491.44" y1="70.29" x2="491.44" y2="86.17" stroke="#000" stroke-width="1.2"/>
<line x1="487.14" y1="70.29" x2="495.74" y2="70.29" stroke="#000" stroke-width="1.2"/>
<line x1="487.14" y1="86.17" x2="495.74" y2="86.17" stroke="#000" stroke-width="1.2"/>
<line x1="499.45" y1="73.69" x2="499.45" y2="89.57" stroke="#000" stroke-width="1.2"/>
<line x1="495.15" y1="73.69" x2="503.75" y2="73.69" stroke="#000" stroke-width="1.2"/>
<line x1="495.15" y1="89.57" x2="503.75" y2="89.57" stroke="#000" stroke-width="1.2"/>
<line x1="507.46" y1="69.16" x2="507.46" y2="85.03" stroke="#000" stroke-width="1.2"/>
<line x1="503.16" y1="69.16" x2="511.76" y2="69.16" stroke="#000" stroke-width="1.2"/>
<line x1="503.16" y1="85.03" x2="511.76" y2="85.03" stroke="#000" stroke-width="1.2"/>
<line x1="523.48" y1="65.75" x2="523.48" y2="81.63" stroke="#000" stroke-width="1.2"/>
<line x1="519.18" y1="65.75" x2="527.78" y2="65.75" stroke="#000" stroke-width="1.2"/>
<line x1="519.18" y1="81.63" x2="527.78" y2="81.63" stroke="#000" stroke-width="1.2"/>
<line x1="531.49" y1="66.32" x2="531.49" y2="82.2" stroke="#000" stroke-width="1.2"/>
<line x1="527.19" y1="66.32" x2="535.79" y2="66.32" stroke="#000" stroke-width="1.2"/>
<line x1="527.19" y1="82.2" x2="535.79" y2="82.2" stroke="#000" stroke-width="1.2"/>
<line x1="539.5" y1="66.32" x2="539.5" y2="82.2" stroke="#000" stroke-width="1.2"/>
<line x1="535.2" y1="66.32" x2="543.8" y2="66.32" stroke="#000" stroke-width="1.2"/>
<line x1="535.2" y1="82.2" x2="543.8" y2="82.2" stroke="#000" stroke-width="1.2"/>
<line x1="555.52" y1="73.12" x2="555.52" y2="89" stroke="#000" stroke-width="1.2"/>
<line x1="551.22" y1="73.12" x2="559.82" y2="73.12" stroke="#000" stroke-width="1.2"/>
<line x1="551.22" y1="89" x2="559.82" y2="89" stroke="#000" stroke-width="1.2"/>
<line x1="563.53" y1="82.2" x2="563.53" y2="104.88" stroke="#000" stroke-width="1.2"/>
<line x1="559.23" y1="82.2" x2="567.83" y2="82.2" stroke="#000" stroke-width="1.2"/>
<line x1="559.23" y1="104.88" x2="567.83" y2="104.88" stroke="#000" stroke-width="1.2"/>
<line x1="579.55" y1="68.59" x2="579.55" y2="84.46" stroke="#000" stroke-width="1.2"/>
<line x1="575.25" y1="68.59" x2="583.85" y2="68.59" stroke="#000" stroke-width="1.2"/>
<line x1="575.25" y1="84.46" x2="583.85" y2="84.46" stroke="#000" stroke-width="1.2"/>
<line x1="587.56" y1="67.45" x2="587.56" y2="83.33" stroke="#000" stroke-width="1.2"/>
<line x1="583.26" y1="67.45" x2="591.86" y2="67.45" stroke="#000" stroke-width="1.2"/>
<line x1="583.26" y1="83.33" x2="591.86" y2="83.33" stroke="#000" stroke-width="1.2"/>
<line x1="379.3" y1="57.25" x2="379.3" y2="70.86" stroke="#000" stroke-width="1.2"/>
<line x1="375" y1="57.25" x2="383.6" y2="57.25" stroke="#000" stroke-width="1.2"/>
<line x1="375" y1="70.86" x2="383.6" y2="70.86" stroke="#000" stroke-width="1.2"/>
<line x1="387.31" y1="65.19" x2="387.31" y2="78.79" stroke="#000" stroke-width="1.2"/>
<line x1="383.01" y1="65.19" x2="391.61" y2="65.19" stroke="#000" stroke-width="1.2"/>
<line x1="383.01" y1="78.79" x2="391.61" y2="78.79" stroke="#000" stroke-width="1.2"/>
<line x1="395.32" y1="66.32" x2="395.32" y2="79.93" stroke="#000" stroke-width="1.2"/>
<line x1="391.02" y1="66.32" x2="399.62" y2="66.32" stroke="#000" stroke-width="1.2"/>
<line x1="391.02" y1="79.93" x2="399.62" y2="79.93" stroke="#000" stroke-width="1.2"/>
<line x1="403.33" y1="65.19" x2="403.33" y2="78.79" stroke="#000" stroke-width="1.2"/>
<line x1="399.03" y1="65.19" x2="407.63" y2="65.19" stroke="#000" stroke-width="1.2"/>
<line x1="399.03" y1="78.79" x2="407.63" y2="78.79" stroke="#000" stroke-width="1.2"/>
<line x1="411.34" y1="69.72" x2="411.34" y2="83.33" stroke="#000" stroke-width="1.2"/>
<line x1="407.04" y1="69.72" x2="415.64" y2="69.72" stroke="#000" stroke-width="1.2"/>
<line x1="407.04" y1="83.33" x2="415.64" y2="83.33" stroke="#000" stroke-width="1.2"/>
<line x1="419.35" y1="70.86" x2="419.35" y2="84.46" stroke="#000" stroke-width="1.2"/>
<line x1="415.05" y1="70.86" x2="423.65" y2="70.86" stroke="#000" stroke-width="1.2"/>
<line x1="415.05" y1="84.46" x2="423.65" y2="84.46" stroke="#000" stroke-width="1.2"/>
<line x1="427.36" y1="71.99" x2="427.36" y2="85.6" stroke="#000" stroke-width="1.2"/>
<line x1="423.06" y1="71.99" x2="431.66" y2="71.99" stroke="#000" stroke-width="1.2"/>
<line x1="423.06" y1="85.6" x2="431.66" y2="85.6" stroke="#000" stroke-width="1.2"/>
<line x1="435.37" y1="66.32" x2="435.37" y2="79.93" stroke="#000" stroke-width="1.2"/>
<line x1="431.07" y1="66.32" x2="439.67" y2="66.32" stroke="#000" stroke-width="1.2"/>
<line x1="431.07" y1="79.93" x2="439.67" y2="79.93" stroke="#000" stroke-width="1.2"/>
<line x1="443.38" y1="67.45" x2="443.38" y2="81.06" stroke="#000" stroke-width="1.2"/>
<line x1="439.08" y1="67.45" x2="447.68" y2="67.45" stroke="#000" stroke-width="1.2"/>
<line x1="439.08" y1="81.06" x2="447.68" y2="81.06" stroke="#000" stroke-width="1.2"/>
<line x1="451.39" y1="59.52" x2="451.39" y2="73.12" stroke="#000" stroke-width="1.2"/>
<line x1="447.09" y1="59.52" x2="455.69" y2="59.52" stroke="#000" stroke-width="1.2"/>
<line x1="447.09" y1="73.12" x2="455.69" y2="73.12" stroke="#000" stroke-width="1.2"/>
<line x1="459.4" y1="65.19" x2="459.4" y2="78.79" stroke="#000" stroke-width="1.2"/>
<line x1="455.1" y1="65.19" x2="463.7" y2="65.19" stroke="#000" stroke-width="1.2"/>
<line x1="455.1" y1="78.79" x2="463.7" y2="78.79" stroke="#000" stroke-width="1.2"/>
<line x1="467.41" y1="65.19" x2="467.41" y2="78.79" stroke="#000" stroke-width="1.2"/>
<line x1="463.11" y1="65.19" x2="471.71" y2="65.19" stroke="#000" stroke-width="1.2"/>
<line x1="463.11" y1="78.79" x2="471.71" y2="78.79" stroke="#000" stroke-width="1.2"/>
<line x1="475.42" y1="67.45" x2="475.42" y2="81.06" stroke="#000" stroke-width="1.2"/>
<line x1="471.12" y1="67.45" x2="479.72" y2="67.45" stroke="#000" stroke-width="1.2"/>
<line x1="471.12" y1="81.06" x2="479.72" y2="81.06" stroke="#000" stroke-width="1.2"/>
<line x1="483.43" y1="67.45" x2="483.43" y2="81.06" stroke="#000" stroke-width="1.2"/>
<line x1="479.13" y1="67.45" x2="487.73" y2="67.45" stroke="#000" stroke-width="1.2"/>
<line x1="479.13" y1="81.06" x2="487.73" y2="81.06" stroke="#000" stroke-width="1.2"/>
<line x1="491.44" y1="67.45" x2="491.44" y2="81.06" stroke="#000" stroke-width="1.2"/>
<line x1="487.14" y1="67.45" x2="495.74" y2="67.45" stroke="#000" stroke-width="1.2"/>
<line x1="487.14" y1="81.06" x2="495.74" y2="81.06" stroke="#000" stroke-width="1.2"/>
<line x1="499.45" y1="68.59" x2="499.45" y2="82.2" stroke="#000" stroke-width="1.2"/>
<line x1="495.15" y1="68.59" x2="503.75" y2="68.59" stroke="#000" stroke-width="1.2"/>
<line x1="495.15" y1="82.2" x2="503.75" y2="82.2" stroke="#000" stroke-width="1.2"/>
<line x1="507.46" y1="66.32" x2="507.46" y2="79.93" stroke="#000" stroke-width="1.2"/>
<line x1="503.16" y1="66.32" x2="511.76" y2="66.32" stroke="#000" stroke-width="1.2"/>
<line x1="503.16" y1="79.93" x2="511.76" y2="79.93" stroke="#000" stroke-width="1.2"/>
<line x1="523.48" y1="64.05" x2="523.48" y2="77.66" stroke="#000" stroke-width="1.2"/>
<line x1="519.18" y1="64.05" x2="527.78" y2="64.05" stroke="#000" stroke-width="1.2"/>
<line x1="519.18" y1="77.66" x2="527.78" y2="77.66" stroke="#000" stroke-width="1.2"/>
<line x1="531.49" y1="66.32" x2="531.49" y2="79.93" stroke="#000" stroke-width="1.2"/>
<line x1="527.19" y1="66.32" x2="535.79" y2="66.32" stroke="#000" stroke-width="1.2"/>
<line x1="527.19" y1="79.93" x2="535.79" y2="79.93" stroke="#000" stroke-width="1.2"/>
<line x1="539.5" y1="65.19" x2="539.5" y2="78.79" stroke="#000" stroke-width="1.2"/>
<line x1="535.2" y1="65.19" x2="543.8" y2="65.19" stroke="#000" stroke-width="1.2"/>
<line x1="535.2" y1="78.79" x2="543.8" y2="78.79" stroke="#000" stroke-width="1.2"/>
<line x1="555.52" y1="67.45" x2="555.52" y2="81.06" stroke="#000" stroke-width="1.2"/>
<line x1="551.22" y1="67.45" x2="559.82" y2="67.45" stroke="#000" stroke-width="1.2"/>
<line x1="551.22" y1="81.06" x2="559.82" y2="81.06" stroke="#000" stroke-width="1.2"/>
<line x1="563.53" y1="68.59" x2="563.53" y2="82.2" stroke="#000" stroke-width="1.2"/>
<line x1="559.23" y1="68.59" x2="567.83" y2="68.59" stroke="#000" stroke-width="1.2"/>
<line x1="559.23" y1="82.2" x2="567.83" y2="82.2" stroke="#000" stroke-width="1.2"/>
<line x1="579.55" y1="66.32" x2="579.55" y2="79.93" stroke="#000" stroke-width="1.2"/>
<line x1="575.25" y1="66.32" x2="583.85" y2="66.32" stroke="#000" stroke-width="1.2"/>
<line x1="575.25" y1="79.93" x2="583.85" y2="79.93" stroke="#000" stroke-width="1.2"/>
<line x1="587.56" y1="66.32" x2="587.56" y2="79.93" stroke="#000" stroke-width="1.2"/>
<line x1="583.26" y1="66.32" x2="591.86" y2="66.32" stroke="#000" stroke-width="1.2"/>
<line x1="583.26" y1="79.93" x2="591.86" y2="79.93" stroke="#000" stroke-width="1.2"/>
<polyline points="379.3,66.32 387.31,71.99 395.32,64.62 403.33,58.38 411.34,57.25 419.35,56.11 427.36,71.99 435.37,62.35 443.38,65.19 451.39,53.85 459.4,58.38 467.41,53.85 475.42,56.11 483.43,54.41 491.44,53.85 499.45,62.92 507.46,59.52 523.48,61.78 531.49,64.05 539.5,54.98 555.52,60.65 563.53,63.48 579.55,66.32 587.56,52.71" fill="none" stroke="#000" stroke-width="1.6" stroke-linejoin="round"/>
<polyline points="379.3,67.45 387.31,76.53 395.32,69.72 403.33,78.79 411.34,76.53 419.35,77.66 427.36,74.26 435.37,69.72 443.38,71.99 451.39,65.19 459.4,69.72 467.41,65.19 475.42,66.32 483.43,65.75 491.44,69.72 499.45,71.42 507.46,71.99 523.48,69.72 531.49,71.99 539.5,82.76 555.52,78.23 563.53,78.79 579.55,81.63 587.56,86.73" fill="none" stroke="#000" stroke-width="1.6" stroke-linejoin="round"/>
<polyline points="379.3,66.32 387.31,71.99 395.32,78.23 403.33,74.83 411.34,76.53 419.35,86.17 427.36,81.63 435.37,82.2 443.38,86.73 451.39,82.2 459.4,79.93 467.41,79.36 475.42,82.2 483.43,83.33 491.44,78.23 499.45,81.63 507.46,77.09 523.48,73.69 531.49,74.26 539.5,74.26 555.52,81.06 563.53,93.54 579.55,76.53 587.56,75.39" fill="none" stroke="#000" stroke-width="1.6" stroke-linejoin="round"/>
<polyline points="379.3,64.05 387.31,71.99 395.32,73.12 403.33,71.99 411.34,76.53 419.35,77.66 427.36,78.79 435.37,73.12 443.38,74.26 451.39,66.32 459.4,71.99 467.41,71.99 475.42,74.26 483.43,74.26 491.44,74.26 499.45,75.39 507.46,73.12 523.48,70.86 531.49,73.12 539.5,71.99 555.52,74.26 563.53,75.39 579.55,73.12 587.56,73.12" fill="none" stroke="#000" stroke-width="1.6" stroke-linejoin="round"/>
<circle cx="379.3" cy="66.32" r="2.5" fill="#fff" stroke="#000" stroke-width="1.1"/>
<circle cx="387.31" cy="71.99" r="2.5" fill="#fff" stroke="#000" stroke-width="1.1"/>
<circle cx="395.32" cy="64.62" r="2.5" fill="#fff" stroke="#000" stroke-width="1.1"/>
<circle cx="403.33" cy="58.38" r="2.5" fill="#fff" stroke="#000" stroke-width="1.1"/>
<circle cx="411.34" cy="57.25" r="2.5" fill="#fff" stroke="#000" stroke-width="1.1"/>
<circle cx="419.35" cy="56.11" r="2.5" fill="#fff" stroke="#000" stroke-width="1.1"/>
<circle cx="427.36" cy="71.99" r="2.5" fill="#fff" stroke="#000" stroke-width="1.1"/>
<circle cx="435.37" cy="62.35" r="2.5" fill="#fff" stroke="#000" stroke-width="1.1"/>
<circle cx="443.38" cy="65.19" r="2.5" fill="#fff" stroke="#000" stroke-width="1.1"/>
<circle cx="451.39" cy="53.85" r="2.5" fill="#fff" stroke="#000" stroke-width="1.1"/>
<circle cx="459.4" cy="58.38" r="2.5" fill="#fff" stroke="#000" stroke-width="1.1"/>
<circle cx="467.41" cy="53.85" r="2.5" fill="#fff" stroke="#000" stroke-width="1.1"/>
<circle cx="475.42" cy="56.11" r="2.5" fill="#fff" stroke="#000" stroke-width="1.1"/>
<circle cx="483.43" cy="54.41" r="2.5" fill="#fff" stroke="#000" stroke-width="1.1"/>
<circle cx="491.44" cy="53.85" r="2.5" fill="#fff" stroke="#000" stroke-width="1.1"/>
<circle cx="499.45" cy="62.92" r="2.5" fill="#fff" stroke="#000" stroke-width="1.1"/>
<circle cx="507.46" cy="59.52" r="2.5" fill="#fff" stroke="#000" stroke-width="1.1"/>
<circle cx="531.49" cy="64.05" r="2.5" fill="#fff" stroke="#000" stroke-width="1.1"/>
<circle cx="539.5" cy="54.98" r="2.5" fill="#fff" stroke="#000" stroke-width="1.1"/>
<circle cx="555.52" cy="60.65" r="2.5" fill="#fff" stroke="#000" stroke-width="1.1"/>
<circle cx="563.53" cy="63.48" r="2.5" fill="#fff" stroke="#000" stroke-width="1.1"/>
<polygon points="576.65,64.12 582.45,64.12 579.55,69.32" fill="#fff" stroke="#000" stroke-width="1.1" stroke-linejoin="round"/>
<circle cx="587.56" cy="52.71" r="2.5" fill="#fff" stroke="#000" stroke-width="1.1"/>
<polygon points="376.4,65.25 382.2,65.25 379.3,70.45" fill="#fff" stroke="#000" stroke-width="1.1" stroke-linejoin="round"/>
<polygon points="384.41,74.33 390.21,74.33 387.31,79.53" fill="#fff" stroke="#000" stroke-width="1.1" stroke-linejoin="round"/>
<polygon points="392.42,67.52 398.22,67.52 395.32,72.72" fill="#fff" stroke="#000" stroke-width="1.1" stroke-linejoin="round"/>
<polygon points="400.43,76.59 406.23,76.59 403.33,81.79" fill="#fff" stroke="#000" stroke-width="1.1" stroke-linejoin="round"/>
<polygon points="408.44,74.33 414.24,74.33 411.34,79.53" fill="#fff" stroke="#000" stroke-width="1.1" stroke-linejoin="round"/>
<polygon points="416.45,75.46 422.25,75.46 419.35,80.66" fill="#fff" stroke="#000" stroke-width="1.1" stroke-linejoin="round"/>
<polygon points="424.46,72.06 430.26,72.06 427.36,77.26" fill="#fff" stroke="#000" stroke-width="1.1" stroke-linejoin="round"/>
<polygon points="432.47,67.52 438.27,67.52 435.37,72.72" fill="#fff" stroke="#000" stroke-width="1.1" stroke-linejoin="round"/>
<polygon points="440.48,69.79 446.28,69.79 443.38,74.99" fill="#fff" stroke="#000" stroke-width="1.1" stroke-linejoin="round"/>
<polygon points="448.49,62.99 454.29,62.99 451.39,68.19" fill="#fff" stroke="#000" stroke-width="1.1" stroke-linejoin="round"/>
<polygon points="456.5,67.52 462.3,67.52 459.4,72.72" fill="#fff" stroke="#000" stroke-width="1.1" stroke-linejoin="round"/>
<polygon points="464.51,62.99 470.31,62.99 467.41,68.19" fill="#fff" stroke="#000" stroke-width="1.1" stroke-linejoin="round"/>
<polygon points="472.52,64.12 478.32,64.12 475.42,69.32" fill="#fff" stroke="#000" stroke-width="1.1" stroke-linejoin="round"/>
<polygon points="480.53,63.55 486.33,63.55 483.43,68.75" fill="#fff" stroke="#000" stroke-width="1.1" stroke-linejoin="round"/>
<polygon points="488.54,67.52 494.34,67.52 491.44,72.72" fill="#fff" stroke="#000" stroke-width="1.1" stroke-linejoin="round"/>
<polygon points="496.55,69.22 502.35,69.22 499.45,74.42" fill="#fff" stroke="#000" stroke-width="1.1" stroke-linejoin="round"/>
<polygon points="504.56,69.79 510.36,69.79 507.46,74.99" fill="#fff" stroke="#000" stroke-width="1.1" stroke-linejoin="round"/>
<polygon points="520.58,67.52 526.38,67.52 523.48,72.72" fill="#fff" stroke="#000" stroke-width="1.1" stroke-linejoin="round"/>
<polygon points="528.59,69.79 534.39,69.79 531.49,74.99" fill="#fff" stroke="#000" stroke-width="1.1" stroke-linejoin="round"/>
<polygon points="536.6,80.56 542.4,80.56 539.5,85.76" fill="#fff" stroke="#000" stroke-width="1.1" stroke-linejoin="round"/>
<polygon points="552.62,76.03 558.42,76.03 555.52,81.23" fill="#fff" stroke="#000" stroke-width="1.1" stroke-linejoin="round"/>
<polygon points="560.63,76.59 566.43,76.59 563.53,81.79" fill="#fff" stroke="#000" stroke-width="1.1" stroke-linejoin="round"/>
<polygon points="576.65,79.43 582.45,79.43 579.55,84.63" fill="#fff" stroke="#000" stroke-width="1.1" stroke-linejoin="round"/>
<polygon points="584.66,84.53 590.46,84.53 587.56,89.73" fill="#fff" stroke="#000" stroke-width="1.1" stroke-linejoin="round"/>
<circle cx="379.3" cy="66.32" r="3.15" fill="#000"/>
<circle cx="387.31" cy="71.99" r="3.15" fill="#000"/>
<circle cx="395.32" cy="78.23" r="3.15" fill="#000"/>
<circle cx="403.33" cy="74.83" r="3.15" fill="#000"/>
<circle cx="411.34" cy="76.53" r="3.15" fill="#000"/>
<circle cx="419.35" cy="86.17" r="3.15" fill="#000"/>
<circle cx="427.36" cy="81.63" r="3.15" fill="#000"/>
<circle cx="435.37" cy="82.2" r="3.15" fill="#000"/>
<circle cx="443.38" cy="86.73" r="3.15" fill="#000"/>
<circle cx="451.39" cy="82.2" r="3.15" fill="#000"/>
<circle cx="459.4" cy="79.93" r="3.15" fill="#000"/>
<circle cx="467.41" cy="79.36" r="3.15" fill="#000"/>
<circle cx="475.42" cy="82.2" r="3.15" fill="#000"/>
<circle cx="483.43" cy="83.33" r="3.15" fill="#000"/>
<circle cx="491.44" cy="78.23" r="3.15" fill="#000"/>
<circle cx="499.45" cy="81.63" r="3.15" fill="#000"/>
<circle cx="507.46" cy="77.09" r="3.15" fill="#000"/>
<circle cx="523.48" cy="73.69" r="3.15" fill="#000"/>
<circle cx="531.49" cy="74.26" r="3.15" fill="#000"/>
<circle cx="539.5" cy="74.26" r="3.15" fill="#000"/>
<circle cx="555.52" cy="81.06" r="3.15" fill="#000"/>
<circle cx="563.53" cy="93.54" r="3.15" fill="#000"/>
<circle cx="579.55" cy="76.53" r="3.15" fill="#000"/>
<circle cx="587.56" cy="75.39" r="3.15" fill="#000"/>
<polygon points="375.7,66.65 382.9,66.65 379.3,60.25" fill="#000"/>
<polygon points="383.71,74.59 390.91,74.59 387.31,68.19" fill="#000"/>
<polygon points="391.72,75.72 398.92,75.72 395.32,69.32" fill="#000"/>
<polygon points="399.73,74.59 406.93,74.59 403.33,68.19" fill="#000"/>
<polygon points="407.74,79.13 414.94,79.13 411.34,72.73" fill="#000"/>
<polygon points="415.75,80.26 422.95,80.26 419.35,73.86" fill="#000"/>
<polygon points="423.76,81.39 430.96,81.39 427.36,74.99" fill="#000"/>
<polygon points="431.77,75.72 438.97,75.72 435.37,69.32" fill="#000"/>
<polygon points="439.78,76.86 446.98,76.86 443.38,70.46" fill="#000"/>
<polygon points="447.79,68.92 454.99,68.92 451.39,62.52" fill="#000"/>
<polygon points="455.8,74.59 463,74.59 459.4,68.19" fill="#000"/>
<polygon points="463.81,74.59 471.01,74.59 467.41,68.19" fill="#000"/>
<polygon points="471.82,76.86 479.02,76.86 475.42,70.46" fill="#000"/>
<polygon points="479.83,76.86 487.03,76.86 483.43,70.46" fill="#000"/>
<polygon points="487.84,76.86 495.04,76.86 491.44,70.46" fill="#000"/>
<polygon points="495.85,77.99 503.05,77.99 499.45,71.59" fill="#000"/>
<polygon points="503.86,75.72 511.06,75.72 507.46,69.32" fill="#000"/>
<polygon points="519.88,73.46 527.08,73.46 523.48,67.06" fill="#000"/>
<polygon points="527.89,75.72 535.09,75.72 531.49,69.32" fill="#000"/>
<polygon points="535.9,74.59 543.1,74.59 539.5,68.19" fill="#000"/>
<polygon points="551.92,76.86 559.12,76.86 555.52,70.46" fill="#000"/>
<polygon points="559.93,77.99 567.13,77.99 563.53,71.59" fill="#000"/>
<polygon points="575.95,75.72 583.15,75.72 579.55,69.32" fill="#000"/>
<polygon points="583.96,75.72 591.16,75.72 587.56,69.32" fill="#000"/>
</g>
<g id="panel-c">
<text transform="translate(-0.5 264.6) scale(1.1 1)" x="0" y="0" font-size="19.4" text-anchor="start" font-weight="bold" stroke="#000" stroke-width="0.4" stroke-linejoin="round">c</text>
<line x1="32" y1="303.9" x2="32" y2="481.8" stroke="#6a6a6a" stroke-width="1.7"/>
<text x="29.4" y="485.1" font-size="11.9" text-anchor="end" stroke="#000" stroke-width="0.12">0</text>
<text x="29.4" y="440.9" font-size="11.9" text-anchor="end" stroke="#000" stroke-width="0.12">2</text>
<text x="29.4" y="396.7" font-size="11.9" text-anchor="end" stroke="#000" stroke-width="0.12">4</text>
<text x="29.4" y="352.5" font-size="11.9" text-anchor="end" stroke="#000" stroke-width="0.12">6</text>
<text x="29.4" y="308.3" font-size="11.9" text-anchor="end" stroke="#000" stroke-width="0.12">8</text>
<text x="11.8" y="391.7" font-size="13.8" text-anchor="middle" transform="rotate(-90 11.8 391.7)" stroke="#000" stroke-width="0.12">Body fat content (g)</text>
<text x="106.3" y="512.4" font-size="13.8" text-anchor="middle" stroke="#000" stroke-width="0.12">Time (weeks)</text>
<line x1="56.6" y1="481.3" x2="56.6" y2="484.8" stroke="#111" stroke-width="1"/>
<text x="56.4" y="497.5" font-size="11.9" text-anchor="middle" stroke="#000" stroke-width="0.12">0</text>
<rect x="40.77" y="442.3" width="6.05" height="39" fill="#fff"/>
<polyline points="40.77,481.3 40.77,442.3 46.82,442.3 46.82,481.3" fill="none" stroke="#000" stroke-width="1.35"/>
<line x1="43.5" y1="442.3" x2="43.5" y2="438.6" stroke="#000" stroke-width="1.1"/>
<line x1="41.6" y1="438.6" x2="45.4" y2="438.6" stroke="#555" stroke-width="1"/>
<rect x="48.17" y="443.9" width="6.85" height="37.4" fill="#8c8c8c"/>
<rect x="49.97" y="443.9" width="5.05" height="37.4" fill="#7f7f7f"/>
<polyline points="49.97,481.3 49.97,443.9 55.02,443.9 55.02,481.3" fill="none" stroke="#000" stroke-width="1.35"/>
<line x1="52.5" y1="443.9" x2="52.5" y2="441.4" stroke="#000" stroke-width="1.1"/>
<line x1="50.6" y1="441.4" x2="54.4" y2="441.4" stroke="#555" stroke-width="1"/>
<rect x="57.77" y="437.4" width="6.25" height="43.9" fill="#fff"/>
<clipPath id="c1"><rect x="57.77" y="437.4" width="6.25" height="43.9"/></clipPath>
<g clip-path="url(#c1)" stroke="#000" stroke-width="1.9">
<line x1="56.1" y1="506.32" x2="65.7" y2="497.87"/>
<line x1="56.1" y1="494.97" x2="65.7" y2="486.52"/>
<line x1="56.1" y1="483.62" x2="65.7" y2="475.17"/>
<line x1="56.1" y1="472.27" x2="65.7" y2="463.82"/>
<line x1="56.1" y1="460.92" x2="65.7" y2="452.47"/>
<line x1="56.1" y1="449.57" x2="65.7" y2="441.12"/>
<line x1="56.1" y1="438.22" x2="65.7" y2="429.77"/>
</g>
<polyline points="57.77,481.3 57.77,437.4 64.03,437.4 64.03,481.3" fill="none" stroke="#000" stroke-width="1.35"/>
<line x1="60.5" y1="437.4" x2="60.5" y2="434.6" stroke="#000" stroke-width="1.1"/>
<line x1="58.6" y1="434.6" x2="62.4" y2="434.6" stroke="#555" stroke-width="1"/>
<rect x="66.77" y="442.4" width="6.05" height="38.9" fill="#7f7f7f"/>
<clipPath id="c2"><rect x="66.77" y="442.4" width="6.05" height="38.9"/></clipPath>
<g clip-path="url(#c2)" stroke="#000" stroke-width="1.9">
<line x1="65.1" y1="496.67" x2="74.5" y2="488.4"/>
<line x1="65.1" y1="485.32" x2="74.5" y2="477.05"/>
<line x1="65.1" y1="473.97" x2="74.5" y2="465.7"/>
<line x1="65.1" y1="462.62" x2="74.5" y2="454.35"/>
<line x1="65.1" y1="451.27" x2="74.5" y2="443"/>
</g>
<polyline points="66.77,481.3 66.77,442.4 72.83,442.4 72.83,481.3" fill="none" stroke="#000" stroke-width="1.35"/>
<line x1="69.5" y1="442.4" x2="69.5" y2="439.6" stroke="#000" stroke-width="1.1"/>
<line x1="67.6" y1="439.6" x2="71.4" y2="439.6" stroke="#555" stroke-width="1"/>
<line x1="105.6" y1="481.3" x2="105.6" y2="484.8" stroke="#111" stroke-width="1"/>
<text x="105.4" y="497.5" font-size="11.9" text-anchor="middle" stroke="#000" stroke-width="0.12">9</text>
<rect x="89.77" y="351.4" width="6.45" height="129.9" fill="#fff"/>
<polyline points="89.77,481.3 89.77,351.4 96.23,351.4 96.23,481.3" fill="none" stroke="#000" stroke-width="1.35"/>
<line x1="93.5" y1="351.4" x2="93.5" y2="334.9" stroke="#000" stroke-width="1.1"/>
<line x1="91.6" y1="334.9" x2="95.4" y2="334.9" stroke="#555" stroke-width="1"/>
<rect x="98.77" y="409.5" width="7.75" height="71.8" fill="#8c8c8c"/>
<rect x="98.77" y="409.5" width="6.25" height="71.8" fill="#7f7f7f"/>
<polyline points="98.77,481.3 98.77,409.5 105.03,409.5 105.03,481.3" fill="none" stroke="#000" stroke-width="1.35"/>
<line x1="101.5" y1="409.5" x2="101.5" y2="404.8" stroke="#000" stroke-width="1.1"/>
<line x1="99.6" y1="404.8" x2="103.4" y2="404.8" stroke="#555" stroke-width="1"/>
<rect x="107.77" y="356.9" width="5.4" height="124.4" fill="#fff"/>
<clipPath id="c3"><rect x="107.77" y="356.9" width="5.4" height="124.4"/></clipPath>
<g clip-path="url(#c3)" stroke="#000" stroke-width="1.9">
<line x1="106.1" y1="501.77" x2="114.85" y2="494.07"/>
<line x1="106.1" y1="490.42" x2="114.85" y2="482.72"/>
<line x1="106.1" y1="479.07" x2="114.85" y2="471.37"/>
<line x1="106.1" y1="467.72" x2="114.85" y2="460.02"/>
<line x1="106.1" y1="456.37" x2="114.85" y2="448.67"/>
<line x1="106.1" y1="445.02" x2="114.85" y2="437.32"/>
<line x1="106.1" y1="433.67" x2="114.85" y2="425.97"/>
<line x1="106.1" y1="422.32" x2="114.85" y2="414.62"/>
<line x1="106.1" y1="410.97" x2="114.85" y2="403.27"/>
<line x1="106.1" y1="399.62" x2="114.85" y2="391.92"/>
<line x1="106.1" y1="388.27" x2="114.85" y2="380.57"/>
<line x1="106.1" y1="376.92" x2="114.85" y2="369.22"/>
<line x1="106.1" y1="365.57" x2="114.85" y2="357.87"/>
</g>
<polyline points="107.77,481.3 107.77,356.9 113.17,356.9 113.17,481.3" fill="none" stroke="#000" stroke-width="1.35"/>
<line x1="110.5" y1="356.9" x2="110.5" y2="338.6" stroke="#000" stroke-width="1.1"/>
<line x1="108.6" y1="338.6" x2="112.4" y2="338.6" stroke="#555" stroke-width="1"/>
<rect x="115.88" y="409.7" width="6.15" height="71.6" fill="#7f7f7f"/>
<clipPath id="c4"><rect x="115.88" y="409.7" width="6.15" height="71.6"/></clipPath>
<g clip-path="url(#c4)" stroke="#000" stroke-width="1.9">
<line x1="114.2" y1="504.42" x2="123.7" y2="496.06"/>
<line x1="114.2" y1="493.07" x2="123.7" y2="484.71"/>
<line x1="114.2" y1="481.72" x2="123.7" y2="473.36"/>
<line x1="114.2" y1="470.37" x2="123.7" y2="462.01"/>
<line x1="114.2" y1="459.02" x2="123.7" y2="450.66"/>
<line x1="114.2" y1="447.67" x2="123.7" y2="439.31"/>
<line x1="114.2" y1="436.32" x2="123.7" y2="427.96"/>
<line x1="114.2" y1="424.97" x2="123.7" y2="416.61"/>
<line x1="114.2" y1="413.62" x2="123.7" y2="405.26"/>
</g>
<polyline points="115.88,481.3 115.88,409.7 122.03,409.7 122.03,481.3" fill="none" stroke="#000" stroke-width="1.35"/>
<line x1="118.5" y1="409.7" x2="118.5" y2="403" stroke="#000" stroke-width="1.1"/>
<line x1="116.6" y1="403" x2="120.4" y2="403" stroke="#555" stroke-width="1"/>
<line x1="154.8" y1="481.3" x2="154.8" y2="484.8" stroke="#111" stroke-width="1"/>
<text x="155.6" y="497.5" font-size="11.9" text-anchor="middle" stroke="#000" stroke-width="0.12">16</text>
<rect x="139.28" y="344.7" width="6.05" height="136.6" fill="#fff"/>
<polyline points="139.28,481.3 139.28,344.7 145.33,344.7 145.33,481.3" fill="none" stroke="#000" stroke-width="1.35"/>
<line x1="142.5" y1="344.7" x2="142.5" y2="329.3" stroke="#000" stroke-width="1.1"/>
<line x1="140.6" y1="329.3" x2="144.4" y2="329.3" stroke="#555" stroke-width="1"/>
<rect x="147.73" y="395.4" width="6.2" height="85.9" fill="#7f7f7f"/>
<polyline points="147.73,481.3 147.73,395.4 153.93,395.4 153.93,481.3" fill="none" stroke="#000" stroke-width="1.35"/>
<line x1="150.5" y1="395.4" x2="150.5" y2="391.3" stroke="#000" stroke-width="1.1"/>
<line x1="148.6" y1="391.3" x2="152.4" y2="391.3" stroke="#555" stroke-width="1"/>
<rect x="156.78" y="350.4" width="6.35" height="130.9" fill="#fff"/>
<clipPath id="c5"><rect x="156.78" y="350.4" width="6.35" height="130.9"/></clipPath>
<g clip-path="url(#c5)" stroke="#000" stroke-width="1.9">
<line x1="155.1" y1="498.67" x2="164.8" y2="490.13"/>
<line x1="155.1" y1="487.32" x2="164.8" y2="478.78"/>
<line x1="155.1" y1="475.97" x2="164.8" y2="467.43"/>
<line x1="155.1" y1="464.62" x2="164.8" y2="456.08"/>
<line x1="155.1" y1="453.27" x2="164.8" y2="444.73"/>
<line x1="155.1" y1="441.92" x2="164.8" y2="433.38"/>
<line x1="155.1" y1="430.57" x2="164.8" y2="422.03"/>
<line x1="155.1" y1="419.22" x2="164.8" y2="410.68"/>
<line x1="155.1" y1="407.87" x2="164.8" y2="399.33"/>
<line x1="155.1" y1="396.52" x2="164.8" y2="387.98"/>
<line x1="155.1" y1="385.17" x2="164.8" y2="376.63"/>
<line x1="155.1" y1="373.82" x2="164.8" y2="365.28"/>
<line x1="155.1" y1="362.47" x2="164.8" y2="353.93"/>
<line x1="155.1" y1="351.12" x2="164.8" y2="342.58"/>
</g>
<polyline points="156.78,481.3 156.78,350.4 163.13,350.4 163.13,481.3" fill="none" stroke="#000" stroke-width="1.35"/>
<line x1="159.5" y1="350.4" x2="159.5" y2="331.3" stroke="#000" stroke-width="1.1"/>
<line x1="157.6" y1="331.3" x2="161.4" y2="331.3" stroke="#555" stroke-width="1"/>
<rect x="165.88" y="399.4" width="5.5" height="81.9" fill="#7f7f7f"/>
<clipPath id="c6"><rect x="165.88" y="399.4" width="5.5" height="81.9"/></clipPath>
<g clip-path="url(#c6)" stroke="#000" stroke-width="1.9">
<line x1="164.2" y1="500.77" x2="173.05" y2="492.98"/>
<line x1="164.2" y1="489.42" x2="173.05" y2="481.63"/>
<line x1="164.2" y1="478.07" x2="173.05" y2="470.28"/>
<line x1="164.2" y1="466.72" x2="173.05" y2="458.93"/>
<line x1="164.2" y1="455.37" x2="173.05" y2="447.58"/>
<line x1="164.2" y1="444.02" x2="173.05" y2="436.23"/>
<line x1="164.2" y1="432.67" x2="173.05" y2="424.88"/>
<line x1="164.2" y1="421.32" x2="173.05" y2="413.53"/>
<line x1="164.2" y1="409.97" x2="173.05" y2="402.18"/>
</g>
<polyline points="165.88,481.3 165.88,399.4 171.38,399.4 171.38,481.3" fill="none" stroke="#000" stroke-width="1.35"/>
<line x1="168.5" y1="399.4" x2="168.5" y2="393.9" stroke="#000" stroke-width="1.1"/>
<line x1="166.6" y1="393.9" x2="170.4" y2="393.9" stroke="#555" stroke-width="1"/>
<line x1="31.2" y1="481.3" x2="180.3" y2="481.3" stroke="#444" stroke-width="1"/>
<polyline points="90.4,331.9 90.4,326 103.6,326 103.6,331.9" fill="none" stroke="#111" stroke-width="1.15"/>
<text x="97.1" y="327.2" font-size="15.5" text-anchor="middle" font-weight="bold" stroke="#000" stroke-width="0.3">**</text>
<polyline points="107.9,332.7 107.9,326.8 121.5,326.8 121.5,332.7" fill="none" stroke="#111" stroke-width="1.15"/>
<text x="115" y="329.2" font-size="15.5" text-anchor="middle" font-weight="bold" stroke="#000" stroke-width="0.3">*</text>
<polyline points="140.4,327.4 140.4,321.5 153.6,321.5 153.6,327.4" fill="none" stroke="#111" stroke-width="1.15"/>
<text x="147.5" y="323.8" font-size="15.5" text-anchor="middle" font-weight="bold" stroke="#000" stroke-width="0.3">**</text>
<polyline points="158.1,328.6 158.1,322.9 171.5,322.9 171.5,328.6" fill="none" stroke="#111" stroke-width="1.15"/>
<text x="165.2" y="324.3" font-size="15.5" text-anchor="middle" font-weight="bold" stroke="#000" stroke-width="0.3">*</text>
</g>
<g id="panel-d">
<text transform="translate(195.2 264.7) scale(1.1 1)" x="0" y="0" font-size="19.4" text-anchor="start" font-weight="bold" stroke="#000" stroke-width="0.4" stroke-linejoin="round">d</text>
<line x1="236.7" y1="306" x2="236.7" y2="483.6" stroke="#000" stroke-width="1.4"/>
<text x="233.2" y="487.1" font-size="11.9" text-anchor="end" stroke="#000" stroke-width="0.12">0.0</text>
<text x="233.2" y="463.46" font-size="11.9" text-anchor="end" stroke="#000" stroke-width="0.12">0.2</text>
<text x="233.2" y="439.82" font-size="11.9" text-anchor="end" stroke="#000" stroke-width="0.12">0.4</text>
<text x="233.2" y="416.18" font-size="11.9" text-anchor="end" stroke="#000" stroke-width="0.12">0.6</text>
<text x="233.2" y="392.54" font-size="11.9" text-anchor="end" stroke="#000" stroke-width="0.12">0.8</text>
<text x="233.2" y="368.9" font-size="11.9" text-anchor="end" stroke="#000" stroke-width="0.12">1.0</text>
<text x="233.2" y="345.26" font-size="11.9" text-anchor="end" stroke="#000" stroke-width="0.12">1.2</text>
<text x="233.2" y="321.62" font-size="11.9" text-anchor="end" stroke="#000" stroke-width="0.12">1.4</text>
<text x="206.5" y="397.5" font-size="13.8" text-anchor="middle" transform="rotate(-90 206.5 397.5)" stroke="#000" stroke-width="0.12">Hepatic triacylglycerol (arbitrary units)</text>
<rect x="247.48" y="364.9" width="7" height="118.2" fill="#fff"/>
<polyline points="247.48,483.1 247.48,364.9 254.48,364.9 254.48,483.1" fill="none" stroke="#000" stroke-width="1.35"/>
<line x1="250.5" y1="364.9" x2="250.5" y2="341.6" stroke="#000" stroke-width="1.1"/>
<line x1="248.6" y1="341.6" x2="252.4" y2="341.6" stroke="#555" stroke-width="1"/>
<rect x="257.48" y="438.4" width="7.55" height="44.7" fill="#7f7f7f"/>
<polyline points="257.48,483.1 257.48,438.4 265.02,438.4 265.02,483.1" fill="none" stroke="#000" stroke-width="1.35"/>
<line x1="261.5" y1="438.4" x2="261.5" y2="431.8" stroke="#000" stroke-width="1.1"/>
<line x1="259.6" y1="431.8" x2="263.4" y2="431.8" stroke="#555" stroke-width="1"/>
<rect x="268.12" y="395.7" width="7" height="87.4" fill="#fff"/>
<clipPath id="c7"><rect x="268.12" y="395.7" width="7" height="87.4"/></clipPath>
<g clip-path="url(#c7)" stroke="#000" stroke-width="1.9">
<line x1="266.45" y1="500.27" x2="276.8" y2="491.16"/>
<line x1="266.45" y1="488.92" x2="276.8" y2="479.81"/>
<line x1="266.45" y1="477.57" x2="276.8" y2="468.46"/>
<line x1="266.45" y1="466.22" x2="276.8" y2="457.11"/>
<line x1="266.45" y1="454.87" x2="276.8" y2="445.76"/>
<line x1="266.45" y1="443.52" x2="276.8" y2="434.41"/>
<line x1="266.45" y1="432.17" x2="276.8" y2="423.06"/>
<line x1="266.45" y1="420.82" x2="276.8" y2="411.71"/>
<line x1="266.45" y1="409.47" x2="276.8" y2="400.36"/>
<line x1="266.45" y1="398.12" x2="276.8" y2="389.01"/>
</g>
<polyline points="268.12,483.1 268.12,395.7 275.12,395.7 275.12,483.1" fill="none" stroke="#000" stroke-width="1.35"/>
<line x1="271.5" y1="395.7" x2="271.5" y2="384.7" stroke="#000" stroke-width="1.1"/>
<line x1="269.6" y1="384.7" x2="273.4" y2="384.7" stroke="#555" stroke-width="1"/>
<rect x="276.58" y="426.7" width="8.65" height="56.4" fill="#8c8c8c"/>
<rect x="278.98" y="426.7" width="6.25" height="56.4" fill="#7f7f7f"/>
<polyline points="278.98,483.1 278.98,426.7 285.22,426.7 285.22,483.1" fill="none" stroke="#000" stroke-width="1.35"/>
<line x1="282.5" y1="426.7" x2="282.5" y2="420.8" stroke="#000" stroke-width="1.1"/>
<line x1="280.6" y1="420.8" x2="284.4" y2="420.8" stroke="#555" stroke-width="1"/>
<line x1="236.7" y1="483.1" x2="296.2" y2="483.1" stroke="#8a8a8a" stroke-width="1.2"/>
<polyline points="244.5,333 244.5,327 265.3,327 265.3,333" fill="none" stroke="#111" stroke-width="1.15"/>
<text x="254.4" y="328.4" font-size="15.5" text-anchor="middle" font-weight="bold" stroke="#000" stroke-width="0.3">*</text>
<polyline points="267.45,375.9 267.45,369.5 288.6,369.5 288.6,375.9" fill="none" stroke="#111" stroke-width="1.15"/>
<text x="278" y="370.4" font-size="15.5" text-anchor="middle" font-weight="bold" stroke="#000" stroke-width="0.3">*</text>
</g>
<g id="panel-e">
<text transform="translate(312.3 264.6) scale(1.1 1)" x="0" y="0" font-size="19.4" text-anchor="start" font-weight="bold" stroke="#000" stroke-width="0.4" stroke-linejoin="round">e</text>
<line x1="344.3" y1="305.3" x2="344.3" y2="483.5" stroke="#111" stroke-width="1.1"/>
<text x="340.8" y="487.6" font-size="11.9" text-anchor="end" stroke="#000" stroke-width="0.12">0</text>
<text x="340.8" y="443.2" font-size="11.9" text-anchor="end" stroke="#000" stroke-width="0.12">2</text>
<text x="340.8" y="398.8" font-size="11.9" text-anchor="end" stroke="#000" stroke-width="0.12">4</text>
<text x="340.8" y="354.4" font-size="11.9" text-anchor="end" stroke="#000" stroke-width="0.12">6</text>
<text x="340.8" y="310" font-size="11.9" text-anchor="end" stroke="#000" stroke-width="0.12">8</text>
<text x="325" y="393.4" font-size="13.8" text-anchor="middle" transform="rotate(-90 325 393.4)" stroke="#000" stroke-width="0.12">Body fat content (g)</text>
<text x="417.6" y="511" font-size="13.8" text-anchor="middle" stroke="#000" stroke-width="0.12">Time (weeks)</text>
<line x1="368.5" y1="483" x2="368.5" y2="486.5" stroke="#333" stroke-width="1"/>
<text x="369.2" y="497.9" font-size="11.9" text-anchor="middle" stroke="#000" stroke-width="0.12">0</text>
<rect x="352.88" y="367.6" width="6.2" height="115.4" fill="#fff"/>
<polyline points="352.88,483 352.88,367.6 359.07,367.6 359.07,483" fill="none" stroke="#000" stroke-width="1.35"/>
<line x1="355.5" y1="367.6" x2="355.5" y2="352.4" stroke="#000" stroke-width="1.1"/>
<line x1="353.6" y1="352.4" x2="357.4" y2="352.4" stroke="#555" stroke-width="1"/>
<rect x="361.68" y="357.4" width="5.6" height="125.6" fill="#7f7f7f"/>
<polyline points="361.68,483 361.68,357.4 367.27,357.4 367.27,483" fill="none" stroke="#000" stroke-width="1.35"/>
<line x1="364.5" y1="357.4" x2="364.5" y2="338.7" stroke="#000" stroke-width="1.1"/>
<line x1="362.6" y1="338.7" x2="366.4" y2="338.7" stroke="#555" stroke-width="1"/>
<rect x="369.98" y="379.5" width="6.15" height="103.5" fill="#fff"/>
<clipPath id="c8"><rect x="369.98" y="379.5" width="6.15" height="103.5"/></clipPath>
<g clip-path="url(#c8)" stroke="#000" stroke-width="1.9">
<line x1="368.3" y1="498.97" x2="377.8" y2="490.61"/>
<line x1="368.3" y1="487.62" x2="377.8" y2="479.26"/>
<line x1="368.3" y1="476.27" x2="377.8" y2="467.91"/>
<line x1="368.3" y1="464.92" x2="377.8" y2="456.56"/>
<line x1="368.3" y1="453.57" x2="377.8" y2="445.21"/>
<line x1="368.3" y1="442.22" x2="377.8" y2="433.86"/>
<line x1="368.3" y1="430.87" x2="377.8" y2="422.51"/>
<line x1="368.3" y1="419.52" x2="377.8" y2="411.16"/>
<line x1="368.3" y1="408.17" x2="377.8" y2="399.81"/>
<line x1="368.3" y1="396.82" x2="377.8" y2="388.46"/>
<line x1="368.3" y1="385.47" x2="377.8" y2="377.11"/>
</g>
<polyline points="369.98,483 369.98,379.5 376.12,379.5 376.12,483" fill="none" stroke="#000" stroke-width="1.35"/>
<line x1="373.5" y1="379.5" x2="373.5" y2="365.5" stroke="#000" stroke-width="1.1"/>
<line x1="371.6" y1="365.5" x2="375.4" y2="365.5" stroke="#555" stroke-width="1"/>
<rect x="378.62" y="372.7" width="6" height="110.3" fill="#7f7f7f"/>
<clipPath id="c9"><rect x="378.62" y="372.7" width="6" height="110.3"/></clipPath>
<g clip-path="url(#c9)" stroke="#000" stroke-width="1.9">
<line x1="376.95" y1="506.27" x2="386.3" y2="498.04"/>
<line x1="376.95" y1="494.92" x2="386.3" y2="486.69"/>
<line x1="376.95" y1="483.57" x2="386.3" y2="475.34"/>
<line x1="376.95" y1="472.22" x2="386.3" y2="463.99"/>
<line x1="376.95" y1="460.87" x2="386.3" y2="452.64"/>
<line x1="376.95" y1="449.52" x2="386.3" y2="441.29"/>
<line x1="376.95" y1="438.17" x2="386.3" y2="429.94"/>
<line x1="376.95" y1="426.82" x2="386.3" y2="418.59"/>
<line x1="376.95" y1="415.47" x2="386.3" y2="407.24"/>
<line x1="376.95" y1="404.12" x2="386.3" y2="395.89"/>
<line x1="376.95" y1="392.77" x2="386.3" y2="384.54"/>
<line x1="376.95" y1="381.42" x2="386.3" y2="373.19"/>
</g>
<polyline points="378.62,483 378.62,372.7 384.62,372.7 384.62,483" fill="none" stroke="#000" stroke-width="1.35"/>
<line x1="381.5" y1="372.7" x2="381.5" y2="350.6" stroke="#000" stroke-width="1.1"/>
<line x1="379.6" y1="350.6" x2="383.4" y2="350.6" stroke="#555" stroke-width="1"/>
<line x1="418" y1="483" x2="418" y2="486.5" stroke="#333" stroke-width="1"/>
<text x="418.7" y="497.9" font-size="11.9" text-anchor="middle" stroke="#000" stroke-width="0.12">8</text>
<rect x="401.82" y="337.6" width="6.4" height="145.4" fill="#fff"/>
<polyline points="401.82,483 401.82,337.6 408.22,337.6 408.22,483" fill="none" stroke="#000" stroke-width="1.35"/>
<line x1="405.5" y1="337.6" x2="405.5" y2="323.7" stroke="#000" stroke-width="1.1"/>
<line x1="403.6" y1="323.7" x2="407.4" y2="323.7" stroke="#555" stroke-width="1"/>
<rect x="410.88" y="371.6" width="5.95" height="111.4" fill="#7f7f7f"/>
<polyline points="410.88,483 410.88,371.6 416.82,371.6 416.82,483" fill="none" stroke="#000" stroke-width="1.35"/>
<line x1="413.5" y1="371.6" x2="413.5" y2="359.9" stroke="#000" stroke-width="1.1"/>
<line x1="411.6" y1="359.9" x2="415.4" y2="359.9" stroke="#555" stroke-width="1"/>
<rect x="419.57" y="345.4" width="6.05" height="137.6" fill="#fff"/>
<clipPath id="c10"><rect x="419.57" y="345.4" width="6.05" height="137.6"/></clipPath>
<g clip-path="url(#c10)" stroke="#000" stroke-width="1.9">
<line x1="417.9" y1="503.07" x2="427.3" y2="494.8"/>
<line x1="417.9" y1="491.72" x2="427.3" y2="483.45"/>
<line x1="417.9" y1="480.37" x2="427.3" y2="472.1"/>
<line x1="417.9" y1="469.02" x2="427.3" y2="460.75"/>
<line x1="417.9" y1="457.67" x2="427.3" y2="449.4"/>
<line x1="417.9" y1="446.32" x2="427.3" y2="438.05"/>
<line x1="417.9" y1="434.97" x2="427.3" y2="426.7"/>
<line x1="417.9" y1="423.62" x2="427.3" y2="415.35"/>
<line x1="417.9" y1="412.27" x2="427.3" y2="404"/>
<line x1="417.9" y1="400.92" x2="427.3" y2="392.65"/>
<line x1="417.9" y1="389.57" x2="427.3" y2="381.3"/>
<line x1="417.9" y1="378.22" x2="427.3" y2="369.95"/>
<line x1="417.9" y1="366.87" x2="427.3" y2="358.6"/>
<line x1="417.9" y1="355.52" x2="427.3" y2="347.25"/>
</g>
<polyline points="419.57,483 419.57,345.4 425.62,345.4 425.62,483" fill="none" stroke="#000" stroke-width="1.35"/>
<line x1="422.5" y1="345.4" x2="422.5" y2="335.4" stroke="#000" stroke-width="1.1"/>
<line x1="420.6" y1="335.4" x2="424.4" y2="335.4" stroke="#555" stroke-width="1"/>
<rect x="428.18" y="371.5" width="5.95" height="111.5" fill="#7f7f7f"/>
<clipPath id="c11"><rect x="428.18" y="371.5" width="5.95" height="111.5"/></clipPath>
<g clip-path="url(#c11)" stroke="#000" stroke-width="1.9">
<line x1="426.5" y1="499.37" x2="435.8" y2="491.18"/>
<line x1="426.5" y1="488.02" x2="435.8" y2="479.83"/>
<line x1="426.5" y1="476.67" x2="435.8" y2="468.48"/>
<line x1="426.5" y1="465.32" x2="435.8" y2="457.13"/>
<line x1="426.5" y1="453.97" x2="435.8" y2="445.78"/>
<line x1="426.5" y1="442.62" x2="435.8" y2="434.43"/>
<line x1="426.5" y1="431.27" x2="435.8" y2="423.08"/>
<line x1="426.5" y1="419.92" x2="435.8" y2="411.73"/>
<line x1="426.5" y1="408.57" x2="435.8" y2="400.38"/>
<line x1="426.5" y1="397.22" x2="435.8" y2="389.03"/>
<line x1="426.5" y1="385.87" x2="435.8" y2="377.68"/>
<line x1="426.5" y1="374.52" x2="435.8" y2="366.33"/>
</g>
<polyline points="428.18,483 428.18,371.5 434.12,371.5 434.12,483" fill="none" stroke="#000" stroke-width="1.35"/>
<line x1="431.5" y1="371.5" x2="431.5" y2="357.5" stroke="#000" stroke-width="1.1"/>
<line x1="429.6" y1="357.5" x2="433.4" y2="357.5" stroke="#555" stroke-width="1"/>
<line x1="467" y1="483" x2="467" y2="486.5" stroke="#333" stroke-width="1"/>
<text x="467.3" y="497.9" font-size="11.9" text-anchor="middle" stroke="#000" stroke-width="0.12">24</text>
<rect x="451.57" y="336.6" width="6.25" height="146.4" fill="#fff"/>
<polyline points="451.57,483 451.57,336.6 457.82,336.6 457.82,483" fill="none" stroke="#000" stroke-width="1.35"/>
<line x1="454.5" y1="336.6" x2="454.5" y2="319.4" stroke="#000" stroke-width="1.1"/>
<line x1="452.6" y1="319.4" x2="456.4" y2="319.4" stroke="#555" stroke-width="1"/>
<rect x="460.28" y="382.4" width="6.05" height="100.6" fill="#7f7f7f"/>
<polyline points="460.28,483 460.28,382.4 466.32,382.4 466.32,483" fill="none" stroke="#000" stroke-width="1.35"/>
<line x1="463.5" y1="382.4" x2="463.5" y2="365.6" stroke="#000" stroke-width="1.1"/>
<line x1="461.6" y1="365.6" x2="465.4" y2="365.6" stroke="#555" stroke-width="1"/>
<rect x="468.78" y="359.4" width="6.05" height="123.6" fill="#fff"/>
<clipPath id="c12"><rect x="468.78" y="359.4" width="6.05" height="123.6"/></clipPath>
<g clip-path="url(#c12)" stroke="#000" stroke-width="1.9">
<line x1="467.1" y1="507.42" x2="476.5" y2="499.15"/>
<line x1="467.1" y1="496.07" x2="476.5" y2="487.8"/>
<line x1="467.1" y1="484.72" x2="476.5" y2="476.45"/>
<line x1="467.1" y1="473.37" x2="476.5" y2="465.1"/>
<line x1="467.1" y1="462.02" x2="476.5" y2="453.75"/>
<line x1="467.1" y1="450.67" x2="476.5" y2="442.4"/>
<line x1="467.1" y1="439.32" x2="476.5" y2="431.05"/>
<line x1="467.1" y1="427.97" x2="476.5" y2="419.7"/>
<line x1="467.1" y1="416.62" x2="476.5" y2="408.35"/>
<line x1="467.1" y1="405.27" x2="476.5" y2="397"/>
<line x1="467.1" y1="393.92" x2="476.5" y2="385.65"/>
<line x1="467.1" y1="382.57" x2="476.5" y2="374.3"/>
<line x1="467.1" y1="371.22" x2="476.5" y2="362.95"/>
</g>
<polyline points="468.78,483 468.78,359.4 474.82,359.4 474.82,483" fill="none" stroke="#000" stroke-width="1.35"/>
<line x1="471.5" y1="359.4" x2="471.5" y2="348.5" stroke="#000" stroke-width="1.1"/>
<line x1="469.6" y1="348.5" x2="473.4" y2="348.5" stroke="#555" stroke-width="1"/>
<rect x="477.78" y="391.8" width="5.75" height="91.2" fill="#7f7f7f"/>
<clipPath id="c13"><rect x="477.78" y="391.8" width="5.75" height="91.2"/></clipPath>
<g clip-path="url(#c13)" stroke="#000" stroke-width="1.9">
<line x1="476.1" y1="503.47" x2="485.2" y2="495.46"/>
<line x1="476.1" y1="492.12" x2="485.2" y2="484.11"/>
<line x1="476.1" y1="480.77" x2="485.2" y2="472.76"/>
<line x1="476.1" y1="469.42" x2="485.2" y2="461.41"/>
<line x1="476.1" y1="458.07" x2="485.2" y2="450.06"/>
<line x1="476.1" y1="446.72" x2="485.2" y2="438.71"/>
<line x1="476.1" y1="435.37" x2="485.2" y2="427.36"/>
<line x1="476.1" y1="424.02" x2="485.2" y2="416.01"/>
<line x1="476.1" y1="412.67" x2="485.2" y2="404.66"/>
<line x1="476.1" y1="401.32" x2="485.2" y2="393.31"/>
</g>
<polyline points="477.78,483 477.78,391.8 483.52,391.8 483.52,483" fill="none" stroke="#000" stroke-width="1.35"/>
<line x1="480.5" y1="391.8" x2="480.5" y2="381.4" stroke="#000" stroke-width="1.1"/>
<line x1="478.6" y1="381.4" x2="482.4" y2="381.4" stroke="#555" stroke-width="1"/>
<line x1="344.3" y1="483" x2="495.9" y2="483" stroke="#8a8a8a" stroke-width="1.2"/>
</g>
<g id="panel-f">
<text transform="translate(498.6 264.6) scale(1.1 1)" x="0" y="0" font-size="19.4" text-anchor="start" font-weight="bold" stroke="#000" stroke-width="0.4" stroke-linejoin="round">f</text>
<line x1="550.5" y1="306" x2="550.5" y2="484.3" stroke="#111" stroke-width="1.2"/>
<text x="547" y="487.8" font-size="11.9" text-anchor="end" stroke="#000" stroke-width="0.12">0.0</text>
<text x="547" y="464.14" font-size="11.9" text-anchor="end" stroke="#000" stroke-width="0.12">0.2</text>
<text x="547" y="440.48" font-size="11.9" text-anchor="end" stroke="#000" stroke-width="0.12">0.4</text>
<text x="547" y="416.82" font-size="11.9" text-anchor="end" stroke="#000" stroke-width="0.12">0.6</text>
<text x="547" y="393.16" font-size="11.9" text-anchor="end" stroke="#000" stroke-width="0.12">0.8</text>
<text x="547" y="369.5" font-size="11.9" text-anchor="end" stroke="#000" stroke-width="0.12">1.0</text>
<text x="547" y="345.84" font-size="11.9" text-anchor="end" stroke="#000" stroke-width="0.12">1.2</text>
<text x="547" y="322.18" font-size="11.9" text-anchor="end" stroke="#000" stroke-width="0.12">1.4</text>
<text x="519.8" y="397.5" font-size="13.8" text-anchor="middle" transform="rotate(-90 519.8 397.5)" stroke="#000" stroke-width="0.12">Hepatic triacylglycerol (arbitrary units)</text>
<rect x="560.97" y="365.5" width="7.25" height="118.3" fill="#fff"/>
<polyline points="560.97,483.8 560.97,365.5 568.22,365.5 568.22,483.8" fill="none" stroke="#000" stroke-width="1.35"/>
<line x1="564.5" y1="365.5" x2="564.5" y2="344.8" stroke="#000" stroke-width="1.1"/>
<line x1="562.6" y1="344.8" x2="566.4" y2="344.8" stroke="#555" stroke-width="1"/>
<rect x="571.12" y="405.45" width="7.7" height="78.35" fill="#7f7f7f"/>
<polyline points="571.12,483.8 571.12,405.45 578.82,405.45 578.82,483.8" fill="none" stroke="#000" stroke-width="1.35"/>
<line x1="574.5" y1="405.45" x2="574.5" y2="396.6" stroke="#000" stroke-width="1.1"/>
<line x1="572.6" y1="396.6" x2="576.4" y2="396.6" stroke="#555" stroke-width="1"/>
<rect x="581.97" y="371.9" width="7.15" height="111.9" fill="#fff"/>
<clipPath id="c14"><rect x="581.97" y="371.9" width="7.15" height="111.9"/></clipPath>
<g clip-path="url(#c14)" stroke="#000" stroke-width="1.9">
<line x1="580.3" y1="506.37" x2="590.8" y2="497.13"/>
<line x1="580.3" y1="495.02" x2="590.8" y2="485.78"/>
<line x1="580.3" y1="483.67" x2="590.8" y2="474.43"/>
<line x1="580.3" y1="472.32" x2="590.8" y2="463.08"/>
<line x1="580.3" y1="460.97" x2="590.8" y2="451.73"/>
<line x1="580.3" y1="449.62" x2="590.8" y2="440.38"/>
<line x1="580.3" y1="438.27" x2="590.8" y2="429.03"/>
<line x1="580.3" y1="426.92" x2="590.8" y2="417.68"/>
<line x1="580.3" y1="415.57" x2="590.8" y2="406.33"/>
<line x1="580.3" y1="404.22" x2="590.8" y2="394.98"/>
<line x1="580.3" y1="392.87" x2="590.8" y2="383.63"/>
<line x1="580.3" y1="381.52" x2="590.8" y2="372.28"/>
</g>
<polyline points="581.97,483.8 581.97,371.9 589.12,371.9 589.12,483.8" fill="none" stroke="#000" stroke-width="1.35"/>
<line x1="585.5" y1="371.9" x2="585.5" y2="346.6" stroke="#000" stroke-width="1.1"/>
<line x1="583.6" y1="346.6" x2="587.4" y2="346.6" stroke="#555" stroke-width="1"/>
<rect x="592.47" y="419.9" width="6.8" height="63.9" fill="#7f7f7f"/>
<polyline points="592.47,483.8 592.47,419.9 599.27,419.9 599.27,483.8" fill="none" stroke="#000" stroke-width="1.35"/>
<line x1="595.5" y1="419.9" x2="595.5" y2="406.4" stroke="#000" stroke-width="1.1"/>
<line x1="593.6" y1="406.4" x2="597.4" y2="406.4" stroke="#555" stroke-width="1"/>
<line x1="550.5" y1="483.8" x2="610" y2="483.8" stroke="#8a8a8a" stroke-width="1.2"/>
</g>
<g id="panel-g">
<text transform="translate(35 548.1) scale(1.1 1)" x="0" y="0" font-size="19.4" text-anchor="start" font-weight="bold" stroke="#000" stroke-width="0.4" stroke-linejoin="round">g</text>
<line x1="95.3" y1="570.7" x2="95.3" y2="748.3" stroke="#505050" stroke-width="1.6"/>
<text x="89.3" y="752.2" font-size="11.9" text-anchor="end" stroke="#000" stroke-width="0.12">0</text>
<line x1="89.3" y1="712.38" x2="95.3" y2="712.38" stroke="#222" stroke-width="1"/>
<text x="89.3" y="716.78" font-size="11.9" text-anchor="end" stroke="#000" stroke-width="0.12">2,000</text>
<line x1="89.3" y1="676.96" x2="95.3" y2="676.96" stroke="#222" stroke-width="1"/>
<text x="89.3" y="681.36" font-size="11.9" text-anchor="end" stroke="#000" stroke-width="0.12">4,000</text>
<line x1="89.3" y1="641.54" x2="95.3" y2="641.54" stroke="#222" stroke-width="1"/>
<text x="89.3" y="645.94" font-size="11.9" text-anchor="end" stroke="#000" stroke-width="0.12">6,000</text>
<line x1="89.3" y1="606.12" x2="95.3" y2="606.12" stroke="#222" stroke-width="1"/>
<text x="89.3" y="610.52" font-size="11.9" text-anchor="end" stroke="#000" stroke-width="0.12">8,000</text>
<line x1="89.3" y1="570.7" x2="95.3" y2="570.7" stroke="#222" stroke-width="1"/>
<text x="89.3" y="575.1" font-size="11.9" text-anchor="end" stroke="#000" stroke-width="0.12">10,000</text>
<text x="46.1" y="658.7" font-size="13.6" text-anchor="middle" transform="rotate(-90 46.1 658.7)" stroke="#000" stroke-width="0.12">Cumulative net energy intake (kJ)</text>
<text x="184" y="782.4" font-size="13.8" text-anchor="middle" stroke="#000" stroke-width="0.12">Time (weeks)</text>
<line x1="125" y1="747.8" x2="125" y2="751.6" stroke="#222" stroke-width="1"/>
<text x="125.4" y="765" font-size="11.9" text-anchor="middle" stroke="#000" stroke-width="0.12">1</text>
<rect x="105.47" y="742.6" width="7.25" height="5.2" fill="#fff"/>
<polyline points="105.47,747.8 105.47,742.6 112.73,742.6 112.73,747.8" fill="none" stroke="#000" stroke-width="1.35"/>
<rect x="116.02" y="742.6" width="7.3" height="5.2" fill="#7f7f7f"/>
<polyline points="116.02,747.8 116.02,742.6 123.33,742.6 123.33,747.8" fill="none" stroke="#000" stroke-width="1.35"/>
<rect x="126.38" y="742.6" width="7.25" height="5.2" fill="#fff"/>
<clipPath id="c15"><rect x="126.38" y="742.6" width="7.25" height="5.2"/></clipPath>
<g clip-path="url(#c15)" stroke="#000" stroke-width="1.9">
<line x1="124.7" y1="771.67" x2="135.3" y2="762.34"/>
<line x1="124.7" y1="760.32" x2="135.3" y2="750.99"/>
<line x1="124.7" y1="748.97" x2="135.3" y2="739.64"/>
</g>
<polyline points="126.38,747.8 126.38,742.6 133.62,742.6 133.62,747.8" fill="none" stroke="#000" stroke-width="1.35"/>
<rect x="136.78" y="742.6" width="7.5" height="5.2" fill="#7f7f7f"/>
<clipPath id="c16"><rect x="136.78" y="742.6" width="7.5" height="5.2"/></clipPath>
<g clip-path="url(#c16)" stroke="#000" stroke-width="1.9">
<line x1="135.1" y1="771.37" x2="145.95" y2="761.82"/>
<line x1="135.1" y1="760.02" x2="145.95" y2="750.47"/>
<line x1="135.1" y1="748.67" x2="145.95" y2="739.12"/>
</g>
<polyline points="136.78,747.8 136.78,742.6 144.28,742.6 144.28,747.8" fill="none" stroke="#000" stroke-width="1.35"/>
<line x1="183.9" y1="747.8" x2="183.9" y2="751.6" stroke="#222" stroke-width="1"/>
<text x="184.3" y="765" font-size="11.9" text-anchor="middle" stroke="#000" stroke-width="0.12">11</text>
<rect x="164.73" y="683.2" width="7.6" height="64.6" fill="#fff"/>
<polyline points="164.73,747.8 164.73,683.2 172.33,683.2 172.33,747.8" fill="none" stroke="#000" stroke-width="1.35"/>
<line x1="168.5" y1="683.2" x2="168.5" y2="682.3" stroke="#000" stroke-width="1.1"/>
<line x1="164.3" y1="682.3" x2="172.7" y2="682.3" stroke="#333" stroke-width="1"/>
<rect x="175.64" y="684.75" width="6.49" height="63.05" fill="#7f7f7f"/>
<polyline points="175.64,747.8 175.64,684.75 182.13,684.75 182.13,747.8" fill="none" stroke="#000" stroke-width="1.35"/>
<rect x="185.88" y="684.75" width="6.8" height="63.05" fill="#fff"/>
<clipPath id="c17"><rect x="185.88" y="684.75" width="6.8" height="63.05"/></clipPath>
<g clip-path="url(#c17)" stroke="#000" stroke-width="1.9">
<line x1="184.2" y1="765.67" x2="194.35" y2="756.74"/>
<line x1="184.2" y1="754.32" x2="194.35" y2="745.39"/>
<line x1="184.2" y1="742.97" x2="194.35" y2="734.04"/>
<line x1="184.2" y1="731.62" x2="194.35" y2="722.69"/>
<line x1="184.2" y1="720.27" x2="194.35" y2="711.34"/>
<line x1="184.2" y1="708.92" x2="194.35" y2="699.99"/>
<line x1="184.2" y1="697.57" x2="194.35" y2="688.64"/>
<line x1="184.2" y1="686.22" x2="194.35" y2="677.29"/>
</g>
<polyline points="185.88,747.8 185.88,684.75 192.68,684.75 192.68,747.8" fill="none" stroke="#000" stroke-width="1.35"/>
<line x1="189.5" y1="684.75" x2="189.5" y2="682.6" stroke="#000" stroke-width="1.1"/>
<line x1="185.3" y1="682.6" x2="193.7" y2="682.6" stroke="#333" stroke-width="1"/>
<rect x="195.98" y="684.45" width="7.25" height="63.35" fill="#7f7f7f"/>
<clipPath id="c18"><rect x="195.98" y="684.45" width="7.25" height="63.35"/></clipPath>
<g clip-path="url(#c18)" stroke="#000" stroke-width="1.9">
<line x1="194.3" y1="763.17" x2="204.9" y2="753.84"/>
<line x1="194.3" y1="751.82" x2="204.9" y2="742.49"/>
<line x1="194.3" y1="740.47" x2="204.9" y2="731.14"/>
<line x1="194.3" y1="729.12" x2="204.9" y2="719.79"/>
<line x1="194.3" y1="717.77" x2="204.9" y2="708.44"/>
<line x1="194.3" y1="706.42" x2="204.9" y2="697.09"/>
<line x1="194.3" y1="695.07" x2="204.9" y2="685.74"/>
</g>
<polyline points="195.98,747.8 195.98,684.45 203.23,684.45 203.23,747.8" fill="none" stroke="#000" stroke-width="1.35"/>
<line x1="243.2" y1="747.8" x2="243.2" y2="751.6" stroke="#222" stroke-width="1"/>
<text x="243.6" y="765" font-size="11.9" text-anchor="middle" stroke="#000" stroke-width="0.12">18</text>
<rect x="224.33" y="643.8" width="6.7" height="104" fill="#fff"/>
<polyline points="224.33,747.8 224.33,643.8 231.03,643.8 231.03,747.8" fill="none" stroke="#000" stroke-width="1.35"/>
<line x1="227.5" y1="643.8" x2="227.5" y2="641.6" stroke="#000" stroke-width="1.1"/>
<line x1="223.3" y1="641.6" x2="231.7" y2="641.6" stroke="#333" stroke-width="1"/>
<rect x="234.68" y="646.2" width="7.15" height="101.6" fill="#7f7f7f"/>
<polyline points="234.68,747.8 234.68,646.2 241.83,646.2 241.83,747.8" fill="none" stroke="#000" stroke-width="1.35"/>
<line x1="238.5" y1="646.2" x2="238.5" y2="644.75" stroke="#000" stroke-width="1.1"/>
<line x1="234.3" y1="644.75" x2="242.7" y2="644.75" stroke="#333" stroke-width="1"/>
<rect x="244.88" y="645.2" width="7.3" height="102.6" fill="#fff"/>
<clipPath id="c19"><rect x="244.88" y="645.2" width="7.3" height="102.6"/></clipPath>
<g clip-path="url(#c19)" stroke="#000" stroke-width="1.9">
<line x1="243.2" y1="767.57" x2="253.85" y2="758.2"/>
<line x1="243.2" y1="756.22" x2="253.85" y2="746.85"/>
<line x1="243.2" y1="744.87" x2="253.85" y2="735.5"/>
<line x1="243.2" y1="733.52" x2="253.85" y2="724.15"/>
<line x1="243.2" y1="722.17" x2="253.85" y2="712.8"/>
<line x1="243.2" y1="710.82" x2="253.85" y2="701.45"/>
<line x1="243.2" y1="699.47" x2="253.85" y2="690.1"/>
<line x1="243.2" y1="688.12" x2="253.85" y2="678.75"/>
<line x1="243.2" y1="676.77" x2="253.85" y2="667.4"/>
<line x1="243.2" y1="665.42" x2="253.85" y2="656.05"/>
<line x1="243.2" y1="654.07" x2="253.85" y2="644.7"/>
</g>
<polyline points="244.88,747.8 244.88,645.2 252.18,645.2 252.18,747.8" fill="none" stroke="#000" stroke-width="1.35"/>
<line x1="248.5" y1="645.2" x2="248.5" y2="643.1" stroke="#000" stroke-width="1.1"/>
<line x1="244.3" y1="643.1" x2="252.7" y2="643.1" stroke="#333" stroke-width="1"/>
<rect x="255.48" y="645.2" width="7.05" height="102.6" fill="#7f7f7f"/>
<clipPath id="c20"><rect x="255.48" y="645.2" width="7.05" height="102.6"/></clipPath>
<g clip-path="url(#c20)" stroke="#000" stroke-width="1.9">
<line x1="253.8" y1="765.67" x2="264.2" y2="756.52"/>
<line x1="253.8" y1="754.32" x2="264.2" y2="745.17"/>
<line x1="253.8" y1="742.97" x2="264.2" y2="733.82"/>
<line x1="253.8" y1="731.62" x2="264.2" y2="722.47"/>
<line x1="253.8" y1="720.27" x2="264.2" y2="711.12"/>
<line x1="253.8" y1="708.92" x2="264.2" y2="699.77"/>
<line x1="253.8" y1="697.57" x2="264.2" y2="688.42"/>
<line x1="253.8" y1="686.22" x2="264.2" y2="677.07"/>
<line x1="253.8" y1="674.87" x2="264.2" y2="665.72"/>
<line x1="253.8" y1="663.52" x2="264.2" y2="654.37"/>
<line x1="253.8" y1="652.17" x2="264.2" y2="643.02"/>
</g>
<polyline points="255.48,747.8 255.48,645.2 262.52,645.2 262.52,747.8" fill="none" stroke="#000" stroke-width="1.35"/>
<line x1="259.5" y1="645.2" x2="259.5" y2="642.6" stroke="#000" stroke-width="1.1"/>
<line x1="255.3" y1="642.6" x2="263.7" y2="642.6" stroke="#333" stroke-width="1"/>
<line x1="89.3" y1="747.8" x2="273.9" y2="747.8" stroke="#444" stroke-width="1.3"/>
</g>
<g id="panel-h">
<text transform="translate(334.9 548.3) scale(1.1 1)" x="0" y="0" font-size="19.4" text-anchor="start" font-weight="bold" stroke="#000" stroke-width="0.4" stroke-linejoin="round">h</text>
<line x1="396.5" y1="570.6" x2="396.5" y2="748.2" stroke="#111" stroke-width="1.1"/>
<text x="388.6" y="752.1" font-size="11.9" text-anchor="end" stroke="#000" stroke-width="0.12">0</text>
<line x1="390.5" y1="712.28" x2="396.5" y2="712.28" stroke="#222" stroke-width="1"/>
<text x="388.6" y="716.68" font-size="11.9" text-anchor="end" stroke="#000" stroke-width="0.12">2,000</text>
<line x1="390.5" y1="676.86" x2="396.5" y2="676.86" stroke="#222" stroke-width="1"/>
<text x="388.6" y="681.26" font-size="11.9" text-anchor="end" stroke="#000" stroke-width="0.12">4,000</text>
<line x1="390.5" y1="641.44" x2="396.5" y2="641.44" stroke="#222" stroke-width="1"/>
<text x="388.6" y="645.84" font-size="11.9" text-anchor="end" stroke="#000" stroke-width="0.12">6,000</text>
<line x1="390.5" y1="606.02" x2="396.5" y2="606.02" stroke="#222" stroke-width="1"/>
<text x="388.6" y="610.42" font-size="11.9" text-anchor="end" stroke="#000" stroke-width="0.12">8,000</text>
<line x1="390.5" y1="570.6" x2="396.5" y2="570.6" stroke="#222" stroke-width="1"/>
<text x="388.6" y="575" font-size="11.9" text-anchor="end" stroke="#000" stroke-width="0.12">10,000</text>
<text x="346.9" y="658.7" font-size="13.6" text-anchor="middle" transform="rotate(-90 346.9 658.7)" stroke="#000" stroke-width="0.12">Cumulative net energy intake (kJ)</text>
<text x="487" y="782.3" font-size="13.8" text-anchor="middle" stroke="#000" stroke-width="0.12">Time (weeks)</text>
<line x1="425.7" y1="747.7" x2="425.7" y2="751.5" stroke="#222" stroke-width="1"/>
<text x="426.1" y="764.9" font-size="11.9" text-anchor="middle" stroke="#000" stroke-width="0.12">1</text>
<rect x="406.68" y="741.8" width="6.85" height="5.9" fill="#fff"/>
<polyline points="406.68,747.7 406.68,741.8 413.52,741.8 413.52,747.7" fill="none" stroke="#000" stroke-width="1.35"/>
<rect x="416.82" y="741.8" width="7.5" height="5.9" fill="#7f7f7f"/>
<polyline points="416.82,747.7 416.82,741.8 424.32,741.8 424.32,747.7" fill="none" stroke="#000" stroke-width="1.35"/>
<rect x="427.32" y="741.8" width="7.5" height="5.9" fill="#fff"/>
<clipPath id="c21"><rect x="427.32" y="741.8" width="7.5" height="5.9"/></clipPath>
<g clip-path="url(#c21)" stroke="#000" stroke-width="1.9">
<line x1="425.65" y1="768.77" x2="436.5" y2="759.22"/>
<line x1="425.65" y1="757.42" x2="436.5" y2="747.87"/>
<line x1="425.65" y1="746.07" x2="436.5" y2="736.52"/>
</g>
<polyline points="427.32,747.7 427.32,741.8 434.82,741.8 434.82,747.7" fill="none" stroke="#000" stroke-width="1.35"/>
<rect x="437.98" y="741.8" width="7.3" height="5.9" fill="#7f7f7f"/>
<clipPath id="c22"><rect x="437.98" y="741.8" width="7.3" height="5.9"/></clipPath>
<g clip-path="url(#c22)" stroke="#000" stroke-width="1.9">
<line x1="436.3" y1="765.82" x2="446.95" y2="756.45"/>
<line x1="436.3" y1="754.47" x2="446.95" y2="745.1"/>
<line x1="436.3" y1="743.12" x2="446.95" y2="733.75"/>
</g>
<polyline points="437.98,747.7 437.98,741.8 445.27,741.8 445.27,747.7" fill="none" stroke="#000" stroke-width="1.35"/>
<line x1="485.2" y1="747.7" x2="485.2" y2="751.5" stroke="#222" stroke-width="1"/>
<text x="485.6" y="764.9" font-size="11.9" text-anchor="middle" stroke="#000" stroke-width="0.12">11</text>
<rect x="465.78" y="679.3" width="7.75" height="68.4" fill="#fff"/>
<polyline points="465.78,747.7 465.78,679.3 473.52,679.3 473.52,747.7" fill="none" stroke="#000" stroke-width="1.35"/>
<rect x="476.53" y="685" width="7.1" height="62.7" fill="#7f7f7f"/>
<polyline points="476.53,747.7 476.53,685 483.62,685 483.62,747.7" fill="none" stroke="#000" stroke-width="1.35"/>
<line x1="480.5" y1="685" x2="480.5" y2="683.3" stroke="#000" stroke-width="1.1"/>
<line x1="476.3" y1="683.3" x2="484.7" y2="683.3" stroke="#333" stroke-width="1"/>
<rect x="486.93" y="682.8" width="7.2" height="64.9" fill="#fff"/>
<clipPath id="c23"><rect x="486.93" y="682.8" width="7.2" height="64.9"/></clipPath>
<g clip-path="url(#c23)" stroke="#000" stroke-width="1.9">
<line x1="485.25" y1="771.62" x2="495.8" y2="762.33"/>
<line x1="485.25" y1="760.27" x2="495.8" y2="750.98"/>
<line x1="485.25" y1="748.92" x2="495.8" y2="739.63"/>
<line x1="485.25" y1="737.57" x2="495.8" y2="728.28"/>
<line x1="485.25" y1="726.22" x2="495.8" y2="716.93"/>
<line x1="485.25" y1="714.87" x2="495.8" y2="705.58"/>
<line x1="485.25" y1="703.52" x2="495.8" y2="694.23"/>
<line x1="485.25" y1="692.17" x2="495.8" y2="682.88"/>
</g>
<polyline points="486.93,747.7 486.93,682.8 494.12,682.8 494.12,747.7" fill="none" stroke="#000" stroke-width="1.35"/>
<rect x="497.18" y="685.7" width="7.3" height="62" fill="#7f7f7f"/>
<clipPath id="c24"><rect x="497.18" y="685.7" width="7.3" height="62"/></clipPath>
<g clip-path="url(#c24)" stroke="#000" stroke-width="1.9">
<line x1="495.5" y1="771.12" x2="506.15" y2="761.75"/>
<line x1="495.5" y1="759.77" x2="506.15" y2="750.4"/>
<line x1="495.5" y1="748.42" x2="506.15" y2="739.05"/>
<line x1="495.5" y1="737.07" x2="506.15" y2="727.7"/>
<line x1="495.5" y1="725.72" x2="506.15" y2="716.35"/>
<line x1="495.5" y1="714.37" x2="506.15" y2="705"/>
<line x1="495.5" y1="703.02" x2="506.15" y2="693.65"/>
<line x1="495.5" y1="691.67" x2="506.15" y2="682.3"/>
</g>
<polyline points="497.18,747.7 497.18,685.7 504.47,685.7 504.47,747.7" fill="none" stroke="#000" stroke-width="1.35"/>
<line x1="544.2" y1="747.7" x2="544.2" y2="751.5" stroke="#222" stroke-width="1"/>
<text x="544.6" y="764.9" font-size="11.9" text-anchor="middle" stroke="#000" stroke-width="0.12">22</text>
<rect x="524.97" y="613.6" width="7.55" height="134.1" fill="#fff"/>
<polyline points="524.97,747.7 524.97,613.6 532.52,613.6 532.52,747.7" fill="none" stroke="#000" stroke-width="1.35"/>
<line x1="528.5" y1="613.6" x2="528.5" y2="611.6" stroke="#000" stroke-width="1.1"/>
<line x1="524.3" y1="611.6" x2="532.7" y2="611.6" stroke="#333" stroke-width="1"/>
<rect x="536.02" y="624.1" width="6.8" height="123.6" fill="#7f7f7f"/>
<polyline points="536.02,747.7 536.02,624.1 542.82,624.1 542.82,747.7" fill="none" stroke="#000" stroke-width="1.35"/>
<line x1="539.5" y1="624.1" x2="539.5" y2="620.65" stroke="#000" stroke-width="1.1"/>
<line x1="535.3" y1="620.65" x2="543.7" y2="620.65" stroke="#333" stroke-width="1"/>
<rect x="546.38" y="622.9" width="6.95" height="124.8" fill="#fff"/>
<clipPath id="c25"><rect x="546.38" y="622.9" width="6.95" height="124.8"/></clipPath>
<g clip-path="url(#c25)" stroke="#000" stroke-width="1.9">
<line x1="544.7" y1="762.67" x2="555" y2="753.6"/>
<line x1="544.7" y1="751.32" x2="555" y2="742.25"/>
<line x1="544.7" y1="739.97" x2="555" y2="730.9"/>
<line x1="544.7" y1="728.62" x2="555" y2="719.55"/>
<line x1="544.7" y1="717.27" x2="555" y2="708.2"/>
<line x1="544.7" y1="705.92" x2="555" y2="696.85"/>
<line x1="544.7" y1="694.57" x2="555" y2="685.5"/>
<line x1="544.7" y1="683.22" x2="555" y2="674.15"/>
<line x1="544.7" y1="671.87" x2="555" y2="662.8"/>
<line x1="544.7" y1="660.52" x2="555" y2="651.45"/>
<line x1="544.7" y1="649.17" x2="555" y2="640.1"/>
<line x1="544.7" y1="637.82" x2="555" y2="628.75"/>
<line x1="544.7" y1="626.47" x2="555" y2="617.4"/>
</g>
<polyline points="546.38,747.7 546.38,622.9 553.32,622.9 553.32,747.7" fill="none" stroke="#000" stroke-width="1.35"/>
<line x1="549.5" y1="622.9" x2="549.5" y2="620.65" stroke="#000" stroke-width="1.1"/>
<line x1="545.3" y1="620.65" x2="553.7" y2="620.65" stroke="#333" stroke-width="1"/>
<rect x="556.47" y="623.1" width="7.05" height="124.6" fill="#7f7f7f"/>
<clipPath id="c26"><rect x="556.47" y="623.1" width="7.05" height="124.6"/></clipPath>
<g clip-path="url(#c26)" stroke="#000" stroke-width="1.9">
<line x1="554.8" y1="763.17" x2="565.2" y2="754.02"/>
<line x1="554.8" y1="751.82" x2="565.2" y2="742.67"/>
<line x1="554.8" y1="740.47" x2="565.2" y2="731.32"/>
<line x1="554.8" y1="729.12" x2="565.2" y2="719.97"/>
<line x1="554.8" y1="717.77" x2="565.2" y2="708.62"/>
<line x1="554.8" y1="706.42" x2="565.2" y2="697.27"/>
<line x1="554.8" y1="695.07" x2="565.2" y2="685.92"/>
<line x1="554.8" y1="683.72" x2="565.2" y2="674.57"/>
<line x1="554.8" y1="672.37" x2="565.2" y2="663.22"/>
<line x1="554.8" y1="661.02" x2="565.2" y2="651.87"/>
<line x1="554.8" y1="649.67" x2="565.2" y2="640.52"/>
<line x1="554.8" y1="638.32" x2="565.2" y2="629.17"/>
<line x1="554.8" y1="626.97" x2="565.2" y2="617.82"/>
</g>
<polyline points="556.47,747.7 556.47,623.1 563.52,623.1 563.52,747.7" fill="none" stroke="#000" stroke-width="1.35"/>
<line x1="390.5" y1="747.7" x2="575" y2="747.7" stroke="#444" stroke-width="1.3"/>
<polyline points="465.3,667.3 465.3,661.3 481.85,661.3 481.85,667.3" fill="none" stroke="#111" stroke-width="1.15"/>
<text x="473.5" y="660" font-size="15.5" text-anchor="middle" font-weight="bold" stroke="#000" stroke-width="0.3">*</text>
<polyline points="524.5,605.3 524.5,599.4 542,599.4 542,605.3" fill="none" stroke="#111" stroke-width="1.15"/>
<text x="533.2" y="601.7" font-size="15.5" text-anchor="middle" font-weight="bold" stroke="#000" stroke-width="0.3">*</text>
<polyline points="524.5,583.9 524.5,577.5 555.1,577.5 555.1,583.9" fill="none" stroke="#111" stroke-width="1.15"/>
<text x="538.8" y="578.2" font-size="15.5" text-anchor="middle" font-weight="bold" stroke="#000" stroke-width="0.3">**</text>
</g>
</svg>
</body>
</html>
